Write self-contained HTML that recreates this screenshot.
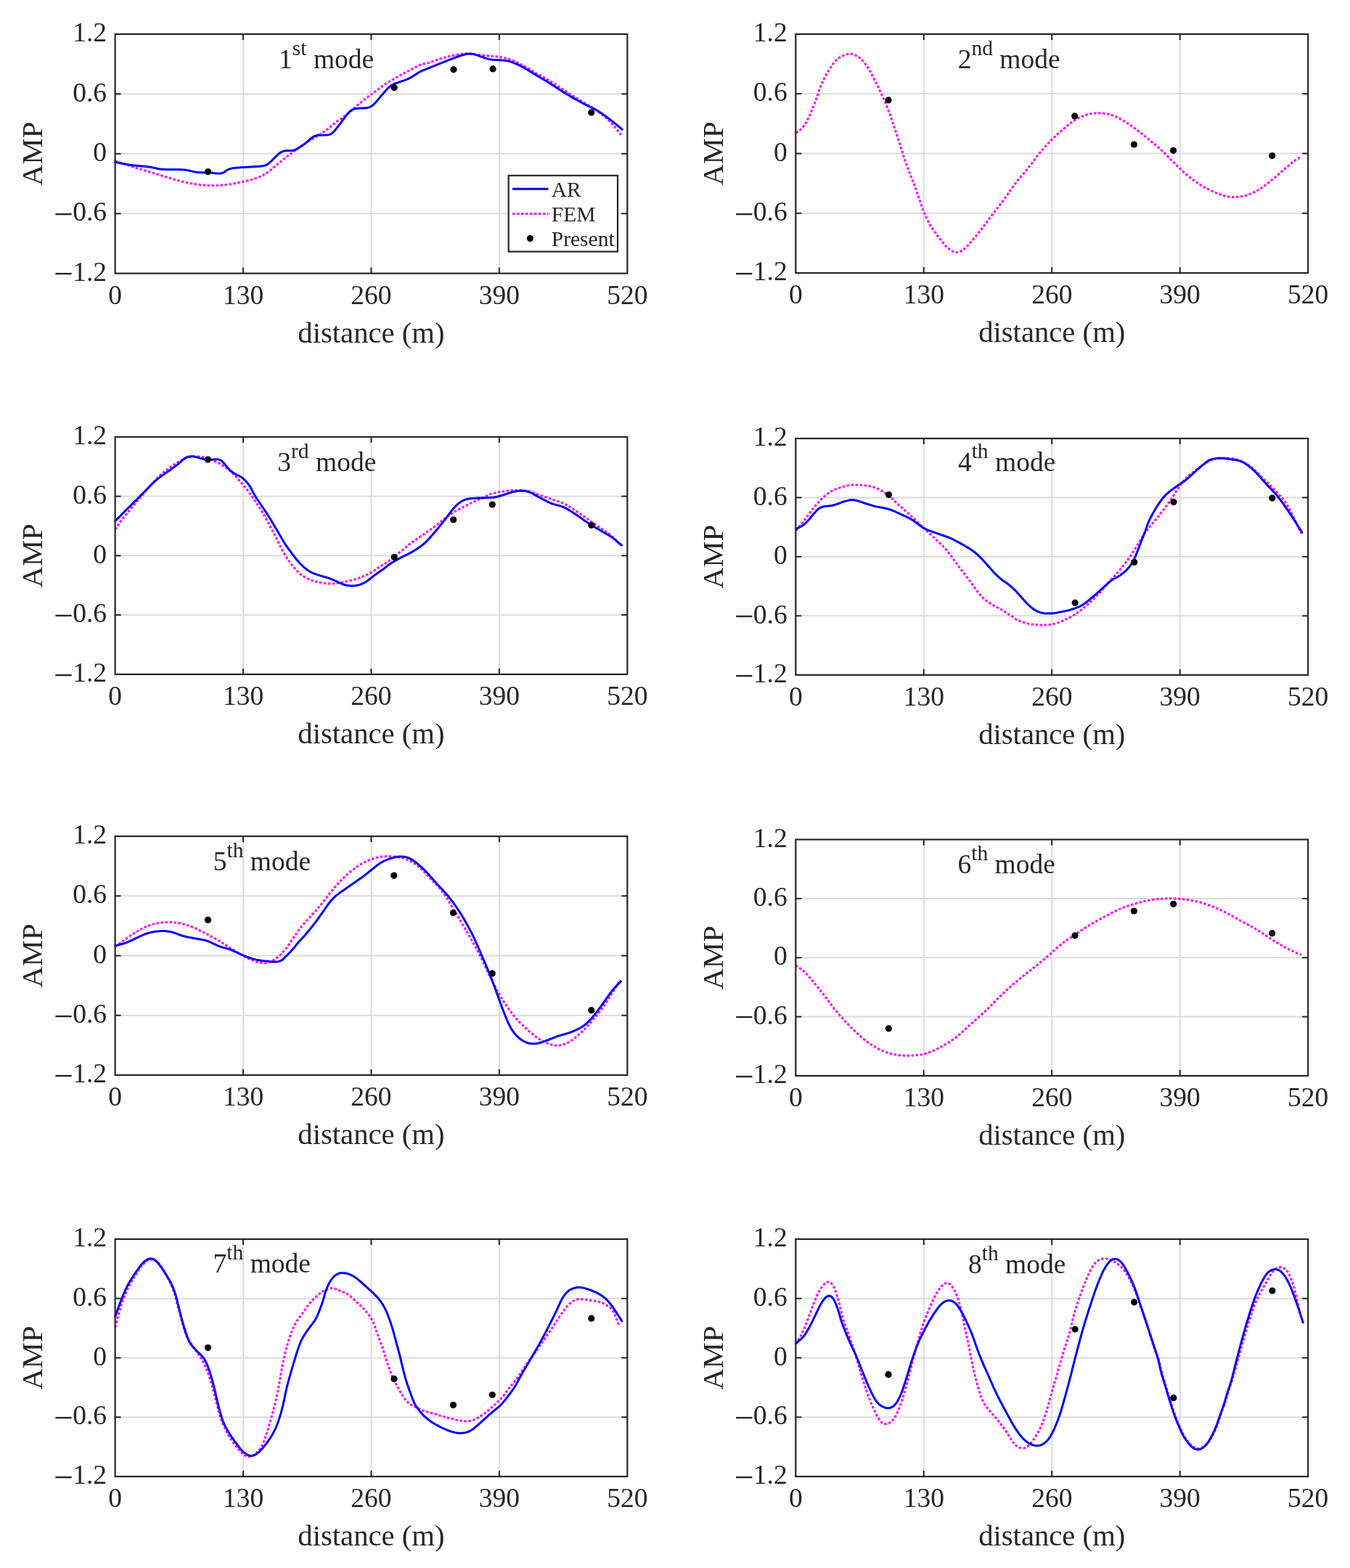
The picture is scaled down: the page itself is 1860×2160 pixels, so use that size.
<!DOCTYPE html>
<html lang="en"><head><meta charset="utf-8"><title>Mode shapes: AR, FEM and Present</title><style>html,body{margin:0;padding:0;background:#fff;overflow:hidden;}svg{display:block;}text{font-family:"Liberation Serif","Times New Roman",serif;fill:#262626;}</style></head><body>
<svg xmlns="http://www.w3.org/2000/svg" width="1860" height="2160" viewBox="0 0 1860 2160">
<rect x="0" y="0" width="1860" height="2160" fill="#fff"/>
<g stroke="#dcdcdc" stroke-width="2"><line x1="335.02" y1="47" x2="335.02" y2="376.6"/><line x1="511.45" y1="47" x2="511.45" y2="376.6"/><line x1="687.88" y1="47" x2="687.88" y2="376.6"/><line x1="158.6" y1="129.4" x2="864.3" y2="129.4"/><line x1="158.6" y1="211.8" x2="864.3" y2="211.8"/><line x1="158.6" y1="294.2" x2="864.3" y2="294.2"/></g>
<g><path d="M158.3,221.5L160.5,222.2 162.1,222.8 164.0,223.4 165.9,224.1 167.8,224.7 169.7,225.3 171.6,226.0 173.5,226.6 175.4,227.3 177.3,227.9 179.1,228.5 181.0,229.2 182.9,229.8 184.9,230.4 186.8,231.0 188.7,231.6 190.6,232.2 192.5,232.8 194.4,233.4 196.3,234.0 198.2,234.5 200.1,235.1 202.0,235.7 204.0,236.3 205.9,236.8 207.8,237.4 209.7,238.0 211.6,238.5 213.6,239.1 215.5,239.7 217.4,240.2 219.3,240.8 221.2,241.4 223.1,242.0 225.0,242.6 227.0,243.2 228.9,243.7 230.8,244.3 232.7,244.9 234.6,245.5 236.5,246.1 238.4,246.7 240.3,247.3 242.3,247.8 244.2,248.4 246.1,248.9 248.1,249.4 250.0,249.8 251.9,250.3 253.9,250.7 255.9,251.2 257.8,251.6 259.8,252.0 261.7,252.4 263.7,252.7 265.7,253.1 267.6,253.4 269.6,253.7 271.6,254.0 273.6,254.2 275.6,254.5 277.6,254.7 279.5,254.9 281.5,255.1 283.5,255.2 285.5,255.3 287.5,255.4 289.5,255.5 291.5,255.6 293.5,255.6 295.5,255.6 297.5,255.6 299.5,255.5 301.5,255.4 303.5,255.3 305.5,255.1 307.5,255.0 309.5,254.8 311.5,254.6 313.5,254.3 315.4,254.0 317.4,253.7 319.4,253.4 321.4,253.1 323.3,252.8 325.3,252.4 327.3,252.0 329.2,251.6 331.2,251.2 333.1,250.8 335.1,250.3 337.0,249.9 339.0,249.4 340.9,248.9 342.9,248.4 344.8,247.9 346.7,247.4 348.6,246.8 350.5,246.2 352.4,245.6 354.3,244.9 356.2,244.2 358.0,243.4 359.8,242.6 361.6,241.7 363.4,240.7 365.1,239.7 366.8,238.7 368.5,237.6 370.1,236.4 371.7,235.2 373.2,233.9 374.7,232.6 376.2,231.3 377.8,230.0 379.3,228.7 380.8,227.4 382.4,226.2 383.9,224.9 385.5,223.7 387.1,222.4 388.6,221.1 390.2,219.9 391.7,218.6 393.3,217.4 394.9,216.2 396.4,214.9 398.0,213.7 399.6,212.5 401.2,211.2 402.8,210.0 404.4,208.8 406.0,207.6 407.6,206.4 409.2,205.2 410.8,204.0 412.4,202.9 414.0,201.7 415.7,200.6 417.4,199.5 419.0,198.4 420.7,197.3 422.4,196.2 424.1,195.1 425.8,194.1 427.5,193.0 429.2,192.0 430.9,190.9 432.6,189.9 434.3,188.9 436.0,187.9 437.8,186.9 439.5,185.9 441.2,184.9 442.9,183.8 444.6,182.7 446.3,181.6 447.9,180.4 449.5,179.3 451.1,178.0 452.6,176.8 454.2,175.5 455.7,174.2 457.3,173.0 458.8,171.7 460.4,170.4 461.9,169.2 463.5,168.0 465.1,166.8 466.8,165.7 468.4,164.5 470.1,163.4 471.7,162.3 473.4,161.2 475.0,160.0 476.7,158.9 478.3,157.7 479.8,156.4 481.4,155.2 482.9,153.8 484.4,152.5 485.9,151.2 487.3,149.8 488.8,148.5 490.3,147.1 491.7,145.7 493.2,144.4 494.7,143.1 496.2,141.8 497.8,140.5 499.3,139.2 500.9,138.0 502.5,136.8 504.1,135.6 505.7,134.4 507.3,133.2 508.9,132.0 510.5,130.8 512.1,129.6 513.7,128.4 515.3,127.2 516.9,126.0 518.5,124.8 520.1,123.6 521.7,122.4 523.3,121.2 524.9,120.0 526.6,118.9 528.2,117.7 529.8,116.6 531.5,115.5 533.2,114.4 534.9,113.4 536.6,112.3 538.3,111.3 540.0,110.3 541.8,109.3 543.5,108.3 545.2,107.3 547.0,106.3 548.7,105.3 550.4,104.3 552.2,103.3 553.9,102.4 555.7,101.4 557.4,100.4 559.2,99.5 561.0,98.5 562.7,97.6 564.5,96.7 566.3,95.7 568.0,94.8 569.8,93.9 571.6,93.0 573.4,92.1 575.2,91.2 577.0,90.3 578.8,89.5 580.7,88.8 582.6,88.3 584.5,87.8 586.5,87.4 588.4,86.9 590.4,86.4 592.3,85.8 594.2,85.2 596.0,84.5 597.9,83.8 599.8,83.1 601.7,82.5 603.6,81.8 605.5,81.2 607.4,80.6 609.3,80.0 611.2,79.5 613.2,79.0 615.1,78.5 617.0,78.0 619.0,77.5 620.9,77.1 622.9,76.7 624.9,76.3 626.8,75.9 628.8,75.5 630.8,75.2 632.7,74.9 634.7,74.6 636.7,74.4 638.7,74.2 640.7,74.1 642.7,74.1 644.7,74.1 646.7,74.2 648.7,74.3 650.7,74.5 652.7,74.6 654.6,74.8 656.6,75.0 658.6,75.2 660.6,75.4 662.6,75.7 664.6,75.9 666.6,76.2 668.6,76.4 670.5,76.7 672.5,76.9 674.5,77.1 676.5,77.3 678.5,77.4 680.5,77.6 682.5,77.7 684.5,77.9 686.5,78.1 688.4,78.4 690.4,78.7 692.4,79.1 694.3,79.6 696.3,80.0 698.2,80.6 700.1,81.1 702.0,81.7 703.9,82.4 705.8,83.1 707.6,83.8 709.5,84.6 711.3,85.4 713.1,86.3 714.9,87.2 716.7,88.1 718.4,89.0 720.2,90.0 722.0,90.9 723.7,91.9 725.4,92.9 727.2,93.9 728.9,94.9 730.6,96.0 732.3,97.0 734.0,98.1 735.7,99.1 737.4,100.2 739.1,101.2 740.9,102.2 742.6,103.1 744.4,104.1 746.1,105.0 747.9,106.0 749.7,106.9 751.4,107.9 753.2,108.8 754.9,109.8 756.7,110.8 758.4,111.9 760.0,112.9 761.7,114.0 763.4,115.1 765.1,116.2 766.7,117.3 768.4,118.5 770.0,119.6 771.7,120.7 773.4,121.8 775.1,122.9 776.7,124.0 778.4,125.1 780.1,126.2 781.8,127.2 783.4,128.3 785.1,129.4 786.8,130.5 788.5,131.6 790.2,132.6 791.9,133.7 793.6,134.7 795.3,135.7 797.0,136.8 798.7,137.8 800.5,138.8 802.2,139.8 803.9,140.9 805.6,141.9 807.3,143.0 809.0,144.0 810.7,145.1 812.4,146.1 814.1,147.2 815.8,148.3 817.5,149.4 819.1,150.5 820.8,151.6 822.4,152.7 824.0,153.9 825.7,155.1 827.3,156.2 828.9,157.4 830.5,158.6 832.1,159.8 833.6,161.1 835.2,162.4 836.7,163.7 838.1,165.1 839.6,166.4 841.0,167.9 842.3,169.4 843.6,170.9 844.9,172.4 846.2,173.9 847.5,175.5 848.7,177.0 849.9,178.6 851.2,180.2 852.4,181.7 853.6,183.2 854.5,184.5 855.5,185.7" fill="none" stroke="#ff00ff" stroke-width="3" stroke-dasharray="3.5 2.5"/><path d="M158.3,223.2L160.5,223.7 162.3,224.0 164.2,224.4 166.1,224.8 168.1,225.2 170.1,225.6 172.0,225.9 174.0,226.3 176.0,226.6 177.9,227.0 179.9,227.3 181.9,227.5 183.9,227.8 185.9,228.0 187.9,228.2 189.9,228.3 191.8,228.5 193.8,228.7 195.8,228.9 197.8,229.0 199.8,229.2 201.8,229.4 203.8,229.7 205.8,230.0 207.7,230.3 209.7,230.7 211.7,231.1 213.6,231.5 215.6,232.0 217.5,232.4 219.5,232.7 221.5,233.0 223.4,233.2 225.4,233.3 227.4,233.4 229.4,233.5 231.4,233.5 233.4,233.5 235.4,233.5 237.4,233.5 239.4,233.5 241.4,233.5 243.4,233.6 245.4,233.6 247.4,233.6 249.4,233.7 251.4,233.8 253.4,233.9 255.4,234.1 257.4,234.4 259.3,234.8 261.3,235.2 263.3,235.7 265.2,236.1 267.2,236.5 269.1,236.9 271.1,237.2 273.1,237.4 275.1,237.5 277.1,237.6 279.1,237.7 281.1,237.7 283.1,237.7 285.1,237.7 287.1,237.8 289.1,237.9 291.1,238.1 293.0,238.3 295.0,238.5 297.0,238.7 299.0,238.9 301.0,239.0 303.0,239.0 304.9,238.7 306.8,238.1 308.5,237.3 310.2,236.2 311.8,235.0 313.5,234.0 315.3,233.1 317.2,232.5 319.1,232.0 321.0,231.6 323.0,231.4 325.0,231.2 327.0,231.0 329.0,230.9 331.0,230.7 333.0,230.6 335.0,230.5 337.0,230.4 339.0,230.3 341.0,230.2 343.0,230.0 345.0,229.9 347.0,229.8 349.0,229.6 351.0,229.5 353.0,229.4 355.0,229.3 357.0,229.2 358.9,229.0 360.9,228.8 362.9,228.4 364.8,228.0 366.7,227.3 368.4,226.4 370.0,225.2 371.5,223.9 373.0,222.6 374.5,221.2 375.9,219.8 377.3,218.4 378.7,217.0 380.1,215.6 381.6,214.2 383.0,212.8 384.5,211.5 386.1,210.3 387.8,209.3 389.6,208.6 391.5,208.0 393.5,207.7 395.5,207.5 397.5,207.5 399.4,207.5 401.4,207.6 403.3,207.4 405.2,206.9 407.1,206.2 408.8,205.3 410.6,204.3 412.3,203.2 414.0,202.1 415.6,201.0 417.3,199.9 418.9,198.8 420.5,197.6 422.1,196.3 423.6,195.0 425.1,193.7 426.5,192.3 428.0,191.0 429.6,189.8 431.2,188.6 433.0,187.7 434.8,187.0 436.7,186.5 438.7,186.3 440.7,186.2 442.7,186.2 444.7,186.2 446.7,186.2 448.7,186.1 450.6,185.9 452.6,185.7 454.5,185.1 456.3,184.3 457.9,183.2 459.3,181.9 460.7,180.4 462.0,178.9 463.2,177.3 464.5,175.8 465.7,174.2 466.9,172.6 468.2,171.0 469.4,169.4 470.5,167.8 471.7,166.2 472.9,164.6 474.1,163.0 475.3,161.4 476.5,159.8 477.7,158.2 479.0,156.7 480.3,155.2 481.7,153.7 483.2,152.4 484.8,151.4 486.6,150.5 488.5,150.0 490.4,149.6 492.4,149.4 494.4,149.2 496.4,149.1 498.4,149.0 500.4,149.0 502.4,148.8 504.4,148.7 506.4,148.4 508.3,147.9 510.1,147.3 511.9,146.3 513.4,145.2 514.9,143.8 516.3,142.4 517.7,141.0 519.0,139.5 520.3,138.0 521.6,136.4 522.9,134.9 524.2,133.3 525.4,131.8 526.8,130.3 528.1,128.8 529.4,127.3 530.7,125.8 532.0,124.3 533.3,122.8 534.7,121.3 536.2,120.0 537.7,118.7 539.3,117.5 541.0,116.5 542.8,115.7 544.7,115.0 546.6,114.3 548.5,113.6 550.3,113.0 552.2,112.3 554.1,111.7 556.0,111.1 557.9,110.4 559.8,109.7 561.6,108.9 563.4,108.1 565.2,107.1 566.9,106.1 568.6,105.1 570.3,104.0 572.0,103.0 573.7,101.9 575.4,100.8 577.1,99.8 578.9,98.8 580.6,97.9 582.4,97.0 584.3,96.3 586.1,95.5 588.0,94.8 589.9,94.1 591.7,93.4 593.6,92.6 595.5,91.9 597.3,91.1 599.2,90.4 601.0,89.6 602.9,88.9 604.7,88.2 606.6,87.4 608.4,86.7 610.3,85.9 612.2,85.2 614.0,84.4 615.9,83.7 617.7,82.9 619.6,82.2 621.5,81.5 623.3,80.8 625.2,80.1 627.1,79.4 628.9,78.7 630.8,78.0 632.7,77.3 634.6,76.7 636.5,76.0 638.4,75.5 640.3,75.0 642.3,74.5 644.3,74.2 646.2,74.1 648.2,74.1 650.2,74.3 652.2,74.6 654.1,75.1 656.0,75.6 657.9,76.3 659.8,76.9 661.7,77.6 663.6,78.2 665.5,78.9 667.3,79.6 669.2,80.3 671.1,80.9 673.0,81.4 675.0,81.8 677.0,82.1 679.0,82.3 681.0,82.4 682.9,82.5 684.9,82.6 686.9,82.7 688.9,82.8 690.9,82.9 692.9,83.0 694.9,83.2 696.9,83.5 698.9,83.8 700.8,84.2 702.7,84.8 704.6,85.4 706.5,86.1 708.4,86.8 710.2,87.6 712.1,88.4 713.9,89.2 715.7,90.1 717.4,91.0 719.2,91.9 721.0,92.9 722.7,93.9 724.5,94.8 726.2,95.8 727.9,96.9 729.6,97.9 731.3,98.9 733.0,100.0 734.8,101.0 736.5,102.1 738.2,103.1 739.9,104.1 741.6,105.2 743.3,106.2 745.0,107.2 746.8,108.2 748.5,109.2 750.2,110.3 751.9,111.3 753.6,112.3 755.3,113.4 757.0,114.4 758.7,115.5 760.4,116.6 762.1,117.7 763.7,118.8 765.4,119.9 767.1,121.0 768.7,122.1 770.4,123.2 772.1,124.3 773.8,125.3 775.5,126.4 777.2,127.4 778.9,128.5 780.6,129.5 782.3,130.5 784.1,131.5 785.8,132.6 787.5,133.6 789.2,134.6 791.0,135.6 792.7,136.6 794.5,137.5 796.2,138.5 798.0,139.5 799.7,140.4 801.5,141.4 803.2,142.3 805.0,143.3 806.8,144.2 808.6,145.1 810.4,146.0 812.2,146.8 814.0,147.7 815.8,148.5 817.6,149.4 819.3,150.3 821.1,151.3 822.8,152.3 824.5,153.3 826.2,154.4 827.9,155.5 829.6,156.6 831.2,157.8 832.8,158.9 834.5,160.1 836.1,161.3 837.7,162.5 839.3,163.7 840.8,164.9 842.4,166.1 844.0,167.4 845.6,168.6 847.1,169.9 848.7,171.1 850.2,172.4 851.7,173.7 853.3,175.0 854.7,176.2 855.9,177.2 857.2,178.2" fill="none" stroke="#0000ff" stroke-width="3" stroke-linejoin="round" stroke-linecap="round"/><circle cx="286.5" cy="236.5" r="4.6" fill="#000"/><circle cx="543.1" cy="120.7" r="4.6" fill="#000"/><circle cx="625" cy="95.8" r="4.6" fill="#000"/><circle cx="679.1" cy="94.9" r="4.6" fill="#000"/><circle cx="814.7" cy="154.9" r="4.6" fill="#000"/></g>
<g stroke="#262626" stroke-width="2"><line x1="335.02" y1="376.6" x2="335.02" y2="368.6"/><line x1="335.02" y1="47" x2="335.02" y2="55"/><line x1="511.45" y1="376.6" x2="511.45" y2="368.6"/><line x1="511.45" y1="47" x2="511.45" y2="55"/><line x1="687.88" y1="376.6" x2="687.88" y2="368.6"/><line x1="687.88" y1="47" x2="687.88" y2="55"/><line x1="158.6" y1="129.4" x2="166.6" y2="129.4"/><line x1="864.3" y1="129.4" x2="856.3" y2="129.4"/><line x1="158.6" y1="211.8" x2="166.6" y2="211.8"/><line x1="864.3" y1="211.8" x2="856.3" y2="211.8"/><line x1="158.6" y1="294.2" x2="166.6" y2="294.2"/><line x1="864.3" y1="294.2" x2="856.3" y2="294.2"/><rect x="158.6" y="47" width="705.7" height="329.6" fill="none" stroke-width="2.2"/></g>
<g font-size="37.5"><text x="147" y="57.2" text-anchor="end">1.2</text><text x="147" y="139.6" text-anchor="end">0.6</text><text x="147" y="222" text-anchor="end">0</text><text x="147" y="304.4" text-anchor="end"><tspan font-size="48" dy="6.6">−</tspan><tspan dx="-0.8" dy="-6.6">0.6</tspan></text><text x="147" y="386.8" text-anchor="end"><tspan font-size="48" dy="6.6">−</tspan><tspan dx="-0.8" dy="-6.6">1.2</tspan></text><text x="158.6" y="418.6" text-anchor="middle">0</text><text x="335.02" y="418.6" text-anchor="middle">130</text><text x="511.45" y="418.6" text-anchor="middle">260</text><text x="687.88" y="418.6" text-anchor="middle">390</text><text x="864.3" y="418.6" text-anchor="middle">520</text></g>
<text x="511.45" y="471.8" font-size="40.7" text-anchor="middle">distance (m)</text>
<text transform="translate(58.3,211.8) rotate(-90)" font-size="40.7" text-anchor="middle">AMP</text>
<text x="384.1" y="94.1" font-size="37.5">1<tspan font-size="29.5" dy="-18">st</tspan><tspan dy="18"> mode</tspan></text>
<g stroke="#dcdcdc" stroke-width="2"><line x1="1272.78" y1="47" x2="1272.78" y2="376"/><line x1="1449.25" y1="47" x2="1449.25" y2="376"/><line x1="1625.72" y1="47" x2="1625.72" y2="376"/><line x1="1096.3" y1="129.25" x2="1802.2" y2="129.25"/><line x1="1096.3" y1="211.5" x2="1802.2" y2="211.5"/><line x1="1096.3" y1="293.75" x2="1802.2" y2="293.75"/></g>
<g><path d="M1096.7,183.2L1098.5,181.8 1099.9,180.8 1101.5,179.6 1103.0,178.3 1104.5,176.9 1105.8,175.5 1107.1,174.0 1108.3,172.3 1109.4,170.7 1110.4,168.9 1111.3,167.2 1112.3,165.4 1113.2,163.6 1114.1,161.8 1114.9,160.0 1115.8,158.2 1116.6,156.4 1117.4,154.6 1118.2,152.7 1119.0,150.9 1119.7,149.0 1120.5,147.2 1121.2,145.3 1121.9,143.5 1122.6,141.6 1123.3,139.7 1124.0,137.9 1124.7,136.0 1125.4,134.1 1126.0,132.2 1126.7,130.3 1127.3,128.4 1128.0,126.5 1128.6,124.6 1129.3,122.7 1130.0,120.9 1130.7,119.0 1131.4,117.1 1132.2,115.3 1133.0,113.4 1133.8,111.6 1134.7,109.8 1135.5,108.0 1136.5,106.2 1137.4,104.5 1138.3,102.7 1139.3,101.0 1140.3,99.2 1141.3,97.5 1142.4,95.8 1143.5,94.1 1144.6,92.5 1145.7,90.8 1146.9,89.2 1148.1,87.6 1149.4,86.1 1150.7,84.6 1152.0,83.1 1153.4,81.7 1155.0,80.4 1156.6,79.3 1158.3,78.2 1160.0,77.3 1161.9,76.5 1163.7,75.7 1165.6,75.1 1167.5,74.6 1169.5,74.3 1171.5,74.3 1173.4,74.5 1175.4,75.0 1177.2,75.6 1179.1,76.3 1180.9,77.2 1182.6,78.2 1184.2,79.4 1185.8,80.6 1187.2,82.0 1188.6,83.4 1189.9,85.0 1191.1,86.5 1192.3,88.1 1193.4,89.8 1194.5,91.4 1195.6,93.1 1196.7,94.8 1197.7,96.6 1198.7,98.3 1199.7,100.0 1200.6,101.8 1201.6,103.5 1202.5,105.3 1203.4,107.1 1204.3,108.9 1205.2,110.7 1206.1,112.5 1207.0,114.2 1207.9,116.0 1208.8,117.8 1209.7,119.6 1210.5,121.4 1211.4,123.2 1212.3,125.0 1213.1,126.8 1214.0,128.7 1214.8,130.5 1215.6,132.3 1216.4,134.1 1217.3,135.9 1218.1,137.8 1218.9,139.6 1219.7,141.4 1220.5,143.3 1221.3,145.1 1222.0,147.0 1222.8,148.8 1223.5,150.7 1224.2,152.5 1224.9,154.4 1225.6,156.3 1226.3,158.2 1227.0,160.1 1227.6,161.9 1228.3,163.8 1228.9,165.7 1229.6,167.6 1230.2,169.5 1230.9,171.4 1231.5,173.3 1232.2,175.2 1232.8,177.1 1233.4,179.0 1234.0,180.9 1234.6,182.8 1235.3,184.7 1235.9,186.6 1236.5,188.5 1237.1,190.4 1237.7,192.3 1238.3,194.2 1238.9,196.1 1239.5,198.0 1240.1,199.9 1240.7,201.8 1241.3,203.8 1241.9,205.7 1242.5,207.6 1243.1,209.5 1243.7,211.4 1244.3,213.3 1244.9,215.2 1245.5,217.1 1246.1,219.0 1246.8,220.9 1247.4,222.8 1248.1,224.7 1248.8,226.6 1249.4,228.4 1250.1,230.3 1250.9,232.2 1251.6,234.0 1252.3,235.9 1253.1,237.8 1253.8,239.6 1254.6,241.5 1255.3,243.3 1256.0,245.2 1256.7,247.1 1257.5,248.9 1258.2,250.8 1258.9,252.7 1259.6,254.6 1260.3,256.4 1261.0,258.3 1261.6,260.2 1262.3,262.1 1263.0,263.9 1263.7,265.8 1264.4,267.7 1265.0,269.6 1265.7,271.5 1266.3,273.4 1267.0,275.3 1267.6,277.2 1268.2,279.1 1268.8,281.0 1269.5,282.9 1270.1,284.8 1270.8,286.7 1271.4,288.5 1272.1,290.4 1272.8,292.3 1273.6,294.1 1274.4,296.0 1275.2,297.8 1276.1,299.6 1276.9,301.4 1277.8,303.2 1278.8,304.9 1279.7,306.7 1280.7,308.4 1281.7,310.2 1282.7,311.9 1283.8,313.6 1284.9,315.3 1286.0,316.9 1287.2,318.5 1288.3,320.2 1289.5,321.8 1290.7,323.4 1291.9,325.0 1293.1,326.6 1294.3,328.2 1295.5,329.8 1296.8,331.3 1298.0,332.9 1299.3,334.4 1300.6,336.0 1301.9,337.5 1303.2,339.0 1304.6,340.4 1306.1,341.7 1307.6,343.0 1309.2,344.3 1310.8,345.4 1312.6,346.4 1314.4,347.2 1316.2,347.6 1318.2,347.7 1320.1,347.5 1322.0,346.9 1323.8,346.1 1325.5,345.1 1327.2,344.0 1328.7,342.7 1330.2,341.4 1331.6,340.0 1332.9,338.5 1334.3,337.0 1335.6,335.5 1337.0,334.1 1338.3,332.6 1339.6,331.1 1340.9,329.6 1342.2,328.0 1343.5,326.5 1344.8,325.0 1346.1,323.4 1347.3,321.9 1348.6,320.3 1349.8,318.7 1351.0,317.1 1352.3,315.6 1353.5,314.0 1354.7,312.4 1355.9,310.8 1357.1,309.2 1358.4,307.6 1359.6,306.1 1360.8,304.4 1361.9,302.8 1363.1,301.2 1364.3,299.6 1365.5,298.0 1366.6,296.4 1367.9,294.8 1369.1,293.2 1370.3,291.6 1371.5,290.0 1372.8,288.4 1374.0,286.9 1375.2,285.3 1376.4,283.7 1377.7,282.1 1378.9,280.5 1380.1,279.0 1381.3,277.4 1382.5,275.8 1383.7,274.1 1384.9,272.5 1386.0,270.9 1387.2,269.3 1388.3,267.6 1389.5,266.0 1390.6,264.4 1391.8,262.7 1392.9,261.1 1394.1,259.4 1395.2,257.8 1396.4,256.2 1397.6,254.6 1398.7,253.0 1400.0,251.4 1401.2,249.8 1402.4,248.2 1403.7,246.7 1405.0,245.1 1406.3,243.6 1407.6,242.1 1408.9,240.6 1410.2,239.1 1411.5,237.5 1412.8,236.0 1414.1,234.5 1415.3,232.9 1416.6,231.4 1417.8,229.8 1419.1,228.2 1420.3,226.7 1421.5,225.1 1422.7,223.5 1423.9,221.9 1425.1,220.3 1426.3,218.7 1427.5,217.1 1428.7,215.5 1429.9,213.9 1431.2,212.3 1432.4,210.8 1433.7,209.2 1435.0,207.7 1436.3,206.2 1437.6,204.7 1438.9,203.2 1440.3,201.7 1441.6,200.2 1443.0,198.7 1444.3,197.3 1445.7,195.8 1447.1,194.4 1448.5,192.9 1449.9,191.5 1451.3,190.1 1452.8,188.7 1454.2,187.3 1455.7,186.0 1457.1,184.6 1458.6,183.3 1460.1,182.0 1461.6,180.6 1463.1,179.3 1464.7,178.0 1466.2,176.8 1467.7,175.5 1469.3,174.2 1470.8,172.9 1472.4,171.7 1474.0,170.5 1475.5,169.2 1477.1,168.0 1478.8,166.9 1480.4,165.8 1482.1,164.7 1483.8,163.7 1485.6,162.8 1487.4,161.9 1489.2,161.0 1491.1,160.3 1492.9,159.5 1494.8,158.9 1496.7,158.3 1498.6,157.7 1500.6,157.3 1502.5,156.8 1504.5,156.5 1506.5,156.2 1508.5,156.0 1510.4,155.8 1512.4,155.7 1514.4,155.7 1516.4,155.8 1518.4,155.9 1520.4,156.1 1522.4,156.4 1524.4,156.7 1526.3,157.1 1528.3,157.6 1530.2,158.1 1532.1,158.7 1534.0,159.4 1535.8,160.1 1537.7,160.9 1539.5,161.7 1541.3,162.6 1543.1,163.6 1544.8,164.5 1546.5,165.5 1548.3,166.5 1550.0,167.5 1551.7,168.6 1553.4,169.7 1555.0,170.8 1556.7,171.9 1558.3,173.1 1559.9,174.2 1561.6,175.4 1563.2,176.6 1564.8,177.8 1566.4,179.0 1568.0,180.2 1569.6,181.4 1571.1,182.6 1572.7,183.9 1574.3,185.1 1575.8,186.4 1577.4,187.6 1578.9,188.9 1580.5,190.2 1582.0,191.4 1583.6,192.7 1585.1,194.0 1586.7,195.2 1588.2,196.5 1589.8,197.8 1591.3,199.1 1592.8,200.4 1594.3,201.7 1595.8,203.0 1597.3,204.3 1598.8,205.7 1600.2,207.0 1601.7,208.4 1603.1,209.8 1604.6,211.2 1606.0,212.6 1607.4,214.0 1608.8,215.4 1610.2,216.9 1611.6,218.3 1613.0,219.7 1614.4,221.1 1615.9,222.5 1617.3,224.0 1618.7,225.4 1620.1,226.8 1621.5,228.2 1623.0,229.6 1624.4,231.0 1625.9,232.3 1627.3,233.7 1628.8,235.1 1630.2,236.4 1631.7,237.8 1633.2,239.1 1634.7,240.4 1636.2,241.7 1637.8,243.0 1639.3,244.3 1640.9,245.5 1642.4,246.8 1644.0,248.0 1645.6,249.2 1647.3,250.3 1648.9,251.5 1650.6,252.6 1652.2,253.7 1653.9,254.8 1655.6,255.8 1657.3,256.9 1659.1,257.9 1660.8,258.8 1662.6,259.7 1664.4,260.6 1666.2,261.5 1668.0,262.4 1669.8,263.2 1671.6,264.0 1673.5,264.8 1675.3,265.6 1677.2,266.3 1679.0,267.1 1680.9,267.8 1682.8,268.4 1684.7,269.1 1686.6,269.7 1688.5,270.2 1690.5,270.7 1692.4,271.0 1694.4,271.3 1696.4,271.4 1698.4,271.4 1700.4,271.4 1702.4,271.3 1704.4,271.2 1706.4,271.1 1708.4,270.9 1710.3,270.6 1712.3,270.2 1714.2,269.8 1716.2,269.3 1718.1,268.7 1720.0,268.0 1721.9,267.4 1723.7,266.7 1725.6,265.9 1727.4,265.1 1729.2,264.2 1731.0,263.3 1732.7,262.3 1734.4,261.3 1736.1,260.2 1737.8,259.1 1739.4,257.9 1741.0,256.8 1742.6,255.6 1744.2,254.4 1745.8,253.2 1747.4,251.9 1749.0,250.7 1750.5,249.4 1752.1,248.2 1753.6,246.9 1755.1,245.6 1756.6,244.3 1758.2,243.0 1759.7,241.7 1761.2,240.3 1762.7,239.0 1764.2,237.7 1765.7,236.4 1767.2,235.1 1768.7,233.8 1770.3,232.5 1771.8,231.2 1773.3,229.9 1774.8,228.6 1776.3,227.3 1777.9,226.0 1779.4,224.7 1781.0,223.5 1782.6,222.3 1784.2,221.1 1785.8,220.0 1787.5,218.9 1789.0,218.0 1790.3,217.2 1791.4,216.5" fill="none" stroke="#ff00ff" stroke-width="3" stroke-dasharray="3.5 2.5"/><circle cx="1224" cy="137.9" r="4.6" fill="#000"/><circle cx="1480.7" cy="159.9" r="4.6" fill="#000"/><circle cx="1562.4" cy="199" r="4.6" fill="#000"/><circle cx="1616.6" cy="207.3" r="4.6" fill="#000"/><circle cx="1752.8" cy="214.5" r="4.6" fill="#000"/></g>
<g stroke="#262626" stroke-width="2"><line x1="1272.78" y1="376" x2="1272.78" y2="368"/><line x1="1272.78" y1="47" x2="1272.78" y2="55"/><line x1="1449.25" y1="376" x2="1449.25" y2="368"/><line x1="1449.25" y1="47" x2="1449.25" y2="55"/><line x1="1625.72" y1="376" x2="1625.72" y2="368"/><line x1="1625.72" y1="47" x2="1625.72" y2="55"/><line x1="1096.3" y1="129.25" x2="1104.3" y2="129.25"/><line x1="1802.2" y1="129.25" x2="1794.2" y2="129.25"/><line x1="1096.3" y1="211.5" x2="1104.3" y2="211.5"/><line x1="1802.2" y1="211.5" x2="1794.2" y2="211.5"/><line x1="1096.3" y1="293.75" x2="1104.3" y2="293.75"/><line x1="1802.2" y1="293.75" x2="1794.2" y2="293.75"/><rect x="1096.3" y="47" width="705.9" height="329" fill="none" stroke-width="2.2"/></g>
<g font-size="37.5"><text x="1084.7" y="57.2" text-anchor="end">1.2</text><text x="1084.7" y="139.45" text-anchor="end">0.6</text><text x="1084.7" y="221.7" text-anchor="end">0</text><text x="1084.7" y="303.95" text-anchor="end"><tspan font-size="48" dy="6.6">−</tspan><tspan dx="-0.8" dy="-6.6">0.6</tspan></text><text x="1084.7" y="386.2" text-anchor="end"><tspan font-size="48" dy="6.6">−</tspan><tspan dx="-0.8" dy="-6.6">1.2</tspan></text><text x="1096.3" y="418" text-anchor="middle">0</text><text x="1272.78" y="418" text-anchor="middle">130</text><text x="1449.25" y="418" text-anchor="middle">260</text><text x="1625.72" y="418" text-anchor="middle">390</text><text x="1802.2" y="418" text-anchor="middle">520</text></g>
<text x="1449.25" y="471.2" font-size="40.7" text-anchor="middle">distance (m)</text>
<text transform="translate(996,211.5) rotate(-90)" font-size="40.7" text-anchor="middle">AMP</text>
<text x="1319.7" y="93.5" font-size="37.5">2<tspan font-size="29.5" dy="-18">nd</tspan><tspan dy="18"> mode</tspan></text>
<g stroke="#dcdcdc" stroke-width="2"><line x1="335.02" y1="601.9" x2="335.02" y2="928.9"/><line x1="511.45" y1="601.9" x2="511.45" y2="928.9"/><line x1="687.88" y1="601.9" x2="687.88" y2="928.9"/><line x1="158.6" y1="683.65" x2="864.3" y2="683.65"/><line x1="158.6" y1="765.4" x2="864.3" y2="765.4"/><line x1="158.6" y1="847.15" x2="864.3" y2="847.15"/></g>
<g><path d="M158.6,729.4L159.9,727.5 160.9,726.0 162.0,724.4 163.1,722.8 164.2,721.1 165.4,719.5 166.5,717.9 167.7,716.2 168.9,714.6 170.1,713.1 171.4,711.5 172.6,709.9 173.9,708.4 175.2,706.9 176.5,705.4 177.8,703.8 179.1,702.3 180.3,700.8 181.6,699.2 182.9,697.7 184.2,696.1 185.5,694.6 186.8,693.1 188.0,691.5 189.3,690.0 190.6,688.5 191.9,687.0 193.2,685.4 194.5,683.9 195.8,682.4 197.0,680.8 198.3,679.3 199.6,677.7 200.8,676.2 202.1,674.6 203.4,673.1 204.7,671.6 206.0,670.1 207.3,668.6 208.7,667.1 210.1,665.6 211.4,664.2 212.8,662.7 214.2,661.3 215.6,659.8 217.0,658.4 218.4,657.0 219.8,655.6 221.2,654.2 222.7,652.9 224.2,651.6 225.8,650.3 227.3,649.0 228.9,647.8 230.5,646.6 232.1,645.4 233.7,644.2 235.3,643.0 237.0,641.9 238.6,640.8 240.3,639.7 242.0,638.6 243.7,637.5 245.4,636.5 247.1,635.5 248.9,634.5 250.6,633.6 252.4,632.7 254.2,631.9 256.1,631.1 258.0,630.5 259.9,630.0 261.9,629.6 263.8,629.3 265.8,629.1 267.8,629.0 269.8,628.9 271.8,628.8 273.8,628.9 275.8,629.1 277.8,629.4 279.7,629.7 281.7,630.2 283.6,630.8 285.5,631.4 287.4,632.1 289.2,632.8 291.1,633.6 292.9,634.3 294.8,635.1 296.6,635.9 298.5,636.6 300.3,637.5 302.1,638.4 303.8,639.3 305.5,640.3 307.2,641.4 308.9,642.5 310.6,643.6 312.2,644.8 313.8,646.0 315.3,647.2 316.8,648.5 318.3,649.9 319.8,651.2 321.2,652.6 322.6,654.1 324.0,655.5 325.3,657.0 326.7,658.5 328.0,660.0 329.3,661.5 330.7,663.0 332.0,664.5 333.3,666.0 334.6,667.5 335.8,669.1 337.1,670.6 338.4,672.2 339.6,673.7 340.9,675.3 342.1,676.9 343.3,678.5 344.5,680.1 345.6,681.7 346.8,683.3 347.9,685.0 349.1,686.6 350.2,688.3 351.3,689.9 352.4,691.6 353.5,693.3 354.6,694.9 355.7,696.6 356.8,698.3 357.9,700.0 358.9,701.7 360.0,703.4 361.1,705.1 362.1,706.8 363.1,708.5 364.1,710.2 365.1,712.0 366.0,713.7 367.0,715.5 368.0,717.3 368.9,719.0 369.9,720.8 370.8,722.5 371.8,724.3 372.7,726.0 373.7,727.8 374.6,729.6 375.6,731.3 376.5,733.1 377.4,734.9 378.3,736.6 379.3,738.4 380.1,740.2 381.0,742.0 381.9,743.8 382.8,745.6 383.6,747.4 384.5,749.2 385.4,751.0 386.3,752.8 387.2,754.6 388.2,756.3 389.1,758.1 390.1,759.8 391.1,761.6 392.1,763.3 393.1,765.0 394.1,766.7 395.2,768.4 396.3,770.1 397.4,771.8 398.5,773.4 399.7,775.0 400.9,776.6 402.1,778.2 403.4,779.8 404.7,781.3 406.0,782.8 407.3,784.3 408.6,785.8 410.0,787.2 411.4,788.6 412.9,790.0 414.4,791.3 416.0,792.5 417.7,793.6 419.4,794.7 421.1,795.7 422.9,796.6 424.7,797.5 426.5,798.3 428.3,799.1 430.2,799.8 432.1,800.4 434.0,801.0 435.9,801.4 437.9,801.8 439.9,802.2 441.8,802.5 443.8,802.9 445.8,803.2 447.8,803.5 449.7,803.7 451.7,803.9 453.7,804.0 455.7,804.0 457.7,804.0 459.7,803.9 461.7,803.8 463.7,803.6 465.7,803.4 467.7,803.1 469.6,802.7 471.6,802.3 473.5,801.8 475.5,801.3 477.4,800.8 479.4,800.4 481.3,800.0 483.3,799.6 485.2,799.2 487.2,798.7 489.1,798.1 491.0,797.5 492.9,796.8 494.7,796.1 496.6,795.4 498.5,794.7 500.3,794.0 502.2,793.2 504.0,792.4 505.8,791.5 507.6,790.6 509.4,789.7 511.1,788.7 512.8,787.7 514.5,786.6 516.2,785.5 517.8,784.3 519.4,783.2 521.1,782.0 522.7,780.9 524.4,779.8 526.1,778.8 527.8,777.8 529.6,776.8 531.3,775.8 533.0,774.7 534.6,773.6 536.2,772.4 537.8,771.2 539.4,769.9 540.9,768.7 542.5,767.4 544.0,766.2 545.6,764.9 547.1,763.6 548.7,762.4 550.2,761.1 551.8,759.9 553.4,758.6 554.9,757.3 556.5,756.1 558.0,754.8 559.6,753.5 561.1,752.3 562.7,751.0 564.2,749.8 565.8,748.6 567.4,747.3 569.0,746.2 570.6,745.0 572.3,743.8 573.9,742.7 575.5,741.5 577.2,740.4 578.8,739.3 580.5,738.2 582.1,737.0 583.8,735.9 585.4,734.8 587.1,733.6 588.7,732.5 590.4,731.3 592.0,730.2 593.7,729.1 595.3,727.9 596.9,726.8 598.5,725.6 600.2,724.4 601.8,723.2 603.3,722.0 604.9,720.7 606.5,719.5 608.0,718.2 609.5,716.9 611.1,715.7 612.6,714.4 614.2,713.1 615.8,711.9 617.4,710.7 619.0,709.6 620.7,708.5 622.4,707.4 624.1,706.3 625.8,705.3 627.5,704.3 629.2,703.3 631.0,702.3 632.7,701.3 634.5,700.3 636.2,699.4 638.0,698.5 639.8,697.5 641.6,696.6 643.4,695.8 645.1,694.9 647.0,694.0 648.8,693.2 650.6,692.3 652.4,691.5 654.2,690.6 656.0,689.8 657.8,689.0 659.7,688.1 661.5,687.3 663.3,686.5 665.1,685.7 666.9,684.9 668.7,684.0 670.5,683.1 672.3,682.1 674.1,681.3 675.9,680.5 677.8,679.9 679.8,679.4 681.7,679.0 683.7,678.6 685.6,678.2 687.6,677.8 689.6,677.5 691.5,677.2 693.5,676.9 695.5,676.6 697.5,676.3 699.5,676.1 701.5,675.8 703.4,675.6 705.4,675.5 707.4,675.3 709.4,675.2 711.4,675.2 713.4,675.2 715.4,675.2 717.4,675.2 719.4,675.3 721.4,675.4 723.4,675.7 725.4,676.0 727.3,676.4 729.3,676.9 731.2,677.4 733.1,678.1 734.9,678.8 736.8,679.5 738.7,680.2 740.5,680.9 742.4,681.6 744.3,682.3 746.2,682.9 748.1,683.6 750.0,684.3 751.9,684.9 753.7,685.6 755.6,686.2 757.5,686.9 759.4,687.5 761.3,688.2 763.2,688.8 765.1,689.4 767.0,690.0 768.9,690.6 770.8,691.3 772.7,691.9 774.5,692.7 776.4,693.5 778.2,694.4 779.9,695.3 781.7,696.3 783.4,697.3 785.1,698.3 786.8,699.4 788.5,700.5 790.2,701.6 791.8,702.7 793.5,703.8 795.2,704.9 796.8,706.0 798.5,707.2 800.1,708.3 801.7,709.5 803.4,710.6 805.0,711.8 806.6,712.9 808.3,714.1 809.9,715.3 811.5,716.4 813.2,717.5 814.8,718.7 816.4,719.8 818.1,721.0 819.7,722.1 821.4,723.3 823.0,724.4 824.6,725.6 826.3,726.7 827.9,727.8 829.6,729.0 831.3,730.1 832.9,731.2 834.6,732.3 836.2,733.4 837.9,734.5 839.5,735.7 841.1,736.9 842.6,738.2 844.1,739.5 845.6,740.9 847.0,742.3 848.4,743.7 849.7,745.2 851.1,746.7 852.4,748.2 853.6,749.6 854.6,750.7 855.5,751.8" fill="none" stroke="#ff00ff" stroke-width="3" stroke-dasharray="3.5 2.5"/><path d="M158.6,717.8L160.2,716.2 161.5,714.9 162.8,713.6 164.3,712.1 165.7,710.7 167.1,709.3 168.5,707.9 169.9,706.5 171.3,705.1 172.7,703.6 174.1,702.2 175.5,700.8 176.9,699.4 178.4,698.0 179.8,696.5 181.2,695.1 182.6,693.7 184.0,692.3 185.5,690.9 186.9,689.5 188.3,688.1 189.7,686.7 191.1,685.3 192.5,683.9 194.0,682.4 195.4,681.0 196.8,679.6 198.2,678.2 199.6,676.8 201.0,675.3 202.4,673.9 203.8,672.5 205.2,671.1 206.6,669.6 208.0,668.2 209.4,666.8 210.8,665.4 212.3,664.0 213.8,662.7 215.3,661.4 216.8,660.1 218.4,658.9 220.0,657.6 221.6,656.4 223.2,655.3 224.8,654.1 226.4,652.9 228.1,651.8 229.7,650.6 231.4,649.5 233.0,648.4 234.7,647.2 236.3,646.1 237.9,644.9 239.5,643.7 241.1,642.6 242.7,641.3 244.3,640.1 245.9,638.8 247.4,637.6 248.9,636.3 250.4,634.9 251.9,633.6 253.4,632.3 254.9,631.0 256.6,630.1 258.5,629.3 260.4,628.9 262.3,628.7 264.3,628.6 266.3,628.8 268.3,629.1 270.2,629.6 272.1,630.1 274.1,630.7 276.0,631.3 277.9,631.8 279.8,632.3 281.8,632.7 283.7,633.0 285.7,633.3 287.7,633.4 289.7,633.4 291.7,633.2 293.7,633.0 295.7,632.8 297.6,632.7 299.6,632.8 301.6,633.1 303.4,633.7 305.1,634.7 306.6,635.9 308.0,637.4 309.3,638.9 310.5,640.5 311.7,642.0 313.0,643.6 314.3,645.1 315.7,646.6 317.1,647.9 318.6,649.2 320.2,650.5 321.8,651.6 323.5,652.7 325.3,653.6 327.1,654.5 328.9,655.3 330.7,656.2 332.4,657.2 334.0,658.4 335.5,659.6 337.0,661.0 338.4,662.5 339.7,663.9 341.0,665.5 342.2,667.1 343.4,668.7 344.5,670.3 345.5,672.1 346.4,673.8 347.4,675.6 348.3,677.4 349.2,679.1 350.2,680.9 351.2,682.6 352.3,684.3 353.3,686.0 354.4,687.7 355.5,689.3 356.6,691.0 357.8,692.7 358.9,694.3 360.0,696.0 361.1,697.6 362.2,699.3 363.3,700.9 364.5,702.6 365.6,704.3 366.7,705.9 367.8,707.6 368.9,709.3 370.0,711.0 371.0,712.7 372.1,714.4 373.1,716.1 374.1,717.8 375.1,719.5 376.1,721.2 377.2,722.9 378.2,724.7 379.2,726.4 380.3,728.1 381.3,729.8 382.3,731.5 383.3,733.2 384.3,735.0 385.3,736.7 386.3,738.4 387.3,740.2 388.3,741.9 389.3,743.6 390.4,745.4 391.4,747.1 392.5,748.8 393.6,750.4 394.7,752.1 395.8,753.7 397.0,755.3 398.2,757.0 399.4,758.6 400.6,760.2 401.8,761.8 402.9,763.4 404.1,765.0 405.4,766.6 406.6,768.2 407.8,769.7 409.1,771.3 410.4,772.8 411.7,774.3 413.0,775.8 414.4,777.2 415.8,778.6 417.3,780.0 418.8,781.4 420.3,782.7 421.8,783.9 423.5,785.1 425.1,786.2 426.8,787.3 428.6,788.2 430.3,789.1 432.2,789.9 434.1,790.6 435.9,791.2 437.8,791.9 439.7,792.5 441.7,793.1 443.6,793.6 445.5,794.2 447.4,794.7 449.3,795.3 451.3,795.9 453.2,796.5 455.0,797.1 456.9,797.9 458.7,798.6 460.6,799.5 462.4,800.3 464.2,801.2 466.0,802.0 467.8,802.9 469.6,803.7 471.4,804.5 473.3,805.2 475.2,805.7 477.2,806.2 479.1,806.6 481.1,806.8 483.1,807.0 485.1,807.0 487.1,806.9 489.1,806.7 491.1,806.4 493.0,806.1 495.0,805.6 496.9,805.0 498.7,804.3 500.5,803.5 502.3,802.5 504.0,801.5 505.7,800.4 507.3,799.2 508.9,798.0 510.5,796.8 512.1,795.6 513.6,794.3 515.2,793.1 516.8,791.9 518.4,790.7 520.0,789.5 521.7,788.4 523.3,787.3 525.0,786.2 526.6,785.1 528.3,783.9 529.9,782.7 531.4,781.5 532.9,780.1 534.4,778.9 536.0,777.7 537.7,776.6 539.4,775.6 541.1,774.5 542.8,773.5 544.6,772.5 546.3,771.5 548.0,770.5 549.8,769.5 551.5,768.5 553.3,767.6 555.1,766.7 556.9,765.8 558.7,764.9 560.5,764.1 562.3,763.2 564.0,762.3 565.8,761.4 567.6,760.4 569.3,759.4 571.0,758.3 572.7,757.3 574.4,756.2 576.1,755.1 577.7,754.0 579.3,752.9 580.9,751.6 582.5,750.4 584.0,749.1 585.5,747.8 587.0,746.4 588.4,745.0 589.8,743.5 591.1,742.1 592.5,740.6 593.8,739.1 595.1,737.6 596.4,736.1 597.7,734.6 599.0,733.0 600.3,731.5 601.6,730.0 602.9,728.4 604.2,726.9 605.4,725.4 606.7,723.8 607.9,722.2 609.2,720.7 610.4,719.1 611.6,717.5 612.9,716.0 614.1,714.4 615.3,712.8 616.5,711.2 617.7,709.6 618.9,708.0 620.1,706.4 621.3,704.8 622.5,703.2 623.8,701.6 625.1,700.1 626.4,698.6 627.8,697.2 629.2,695.8 630.7,694.4 632.2,693.2 633.8,692.0 635.5,690.9 637.2,689.9 639.0,689.0 640.9,688.3 642.8,687.7 644.7,687.3 646.7,686.9 648.7,686.7 650.6,686.5 652.6,686.4 654.6,686.3 656.6,686.2 658.6,686.1 660.6,686.1 662.6,686.0 664.6,685.9 666.6,685.9 668.6,685.8 670.6,685.8 672.6,685.7 674.6,685.6 676.6,685.5 678.6,685.3 680.6,685.0 682.6,684.7 684.5,684.3 686.5,683.8 688.4,683.3 690.3,682.7 692.2,682.2 694.1,681.6 696.0,681.0 697.9,680.4 699.8,679.7 701.7,679.1 703.6,678.5 705.6,677.9 707.5,677.4 709.5,677.0 711.4,676.7 713.4,676.5 715.4,676.3 717.4,676.2 719.4,676.1 721.4,676.2 723.4,676.4 725.3,676.8 727.3,677.2 729.1,677.9 731.0,678.6 732.8,679.5 734.6,680.4 736.3,681.4 738.1,682.4 739.8,683.3 741.5,684.3 743.3,685.2 745.1,686.2 746.9,687.1 748.6,688.0 750.4,689.0 752.2,689.9 754.0,690.8 755.7,691.7 757.6,692.5 759.4,693.3 761.3,694.0 763.2,694.6 765.1,695.1 767.0,695.6 769.0,696.1 770.9,696.6 772.8,697.2 774.7,697.9 776.6,698.6 778.4,699.5 780.1,700.4 781.9,701.4 783.6,702.4 785.3,703.4 787.0,704.5 788.7,705.6 790.3,706.7 792.0,707.8 793.7,708.9 795.3,710.0 797.0,711.2 798.6,712.3 800.2,713.5 801.9,714.6 803.5,715.8 805.1,717.0 806.7,718.1 808.4,719.2 810.1,720.3 811.7,721.4 813.4,722.5 815.1,723.5 816.9,724.6 818.6,725.6 820.3,726.6 822.0,727.6 823.8,728.6 825.5,729.6 827.2,730.7 828.9,731.7 830.7,732.7 832.4,733.7 834.1,734.7 835.8,735.7 837.6,736.7 839.3,737.7 841.0,738.8 842.6,739.9 844.3,741.1 845.9,742.3 847.4,743.5 849.0,744.8 850.5,746.0 852.1,747.3 853.5,748.6 854.8,749.7 856.4,751.0" fill="none" stroke="#0000ff" stroke-width="3" stroke-linejoin="round" stroke-linecap="round"/><circle cx="286.4" cy="633" r="4.6" fill="#000"/><circle cx="543.2" cy="767.6" r="4.6" fill="#000"/><circle cx="624.7" cy="716" r="4.6" fill="#000"/><circle cx="678.3" cy="695" r="4.6" fill="#000"/><circle cx="814.8" cy="723.5" r="4.6" fill="#000"/></g>
<g stroke="#262626" stroke-width="2"><line x1="335.02" y1="928.9" x2="335.02" y2="920.9"/><line x1="335.02" y1="601.9" x2="335.02" y2="609.9"/><line x1="511.45" y1="928.9" x2="511.45" y2="920.9"/><line x1="511.45" y1="601.9" x2="511.45" y2="609.9"/><line x1="687.88" y1="928.9" x2="687.88" y2="920.9"/><line x1="687.88" y1="601.9" x2="687.88" y2="609.9"/><line x1="158.6" y1="683.65" x2="166.6" y2="683.65"/><line x1="864.3" y1="683.65" x2="856.3" y2="683.65"/><line x1="158.6" y1="765.4" x2="166.6" y2="765.4"/><line x1="864.3" y1="765.4" x2="856.3" y2="765.4"/><line x1="158.6" y1="847.15" x2="166.6" y2="847.15"/><line x1="864.3" y1="847.15" x2="856.3" y2="847.15"/><rect x="158.6" y="601.9" width="705.7" height="327" fill="none" stroke-width="2.2"/></g>
<g font-size="37.5"><text x="147" y="612.1" text-anchor="end">1.2</text><text x="147" y="693.85" text-anchor="end">0.6</text><text x="147" y="775.6" text-anchor="end">0</text><text x="147" y="857.35" text-anchor="end"><tspan font-size="48" dy="6.6">−</tspan><tspan dx="-0.8" dy="-6.6">0.6</tspan></text><text x="147" y="939.1" text-anchor="end"><tspan font-size="48" dy="6.6">−</tspan><tspan dx="-0.8" dy="-6.6">1.2</tspan></text><text x="158.6" y="970.9" text-anchor="middle">0</text><text x="335.02" y="970.9" text-anchor="middle">130</text><text x="511.45" y="970.9" text-anchor="middle">260</text><text x="687.88" y="970.9" text-anchor="middle">390</text><text x="864.3" y="970.9" text-anchor="middle">520</text></g>
<text x="511.45" y="1024.1" font-size="40.7" text-anchor="middle">distance (m)</text>
<text transform="translate(58.3,765.4) rotate(-90)" font-size="40.7" text-anchor="middle">AMP</text>
<text x="382.3" y="648.8" font-size="37.5">3<tspan font-size="29.5" dy="-18">rd</tspan><tspan dy="18"> mode</tspan></text>
<g stroke="#dcdcdc" stroke-width="2"><line x1="1272.78" y1="604" x2="1272.78" y2="929.8"/><line x1="1449.25" y1="604" x2="1449.25" y2="929.8"/><line x1="1625.72" y1="604" x2="1625.72" y2="929.8"/><line x1="1096.3" y1="685.45" x2="1802.2" y2="685.45"/><line x1="1096.3" y1="766.9" x2="1802.2" y2="766.9"/><line x1="1096.3" y1="848.35" x2="1802.2" y2="848.35"/></g>
<g><path d="M1096.7,731.0L1098.1,729.2 1099.2,727.8 1100.4,726.3 1101.7,724.7 1102.9,723.2 1104.2,721.6 1105.4,720.0 1106.6,718.5 1107.8,716.9 1109.1,715.3 1110.3,713.7 1111.5,712.1 1112.7,710.5 1113.9,708.9 1115.1,707.3 1116.3,705.7 1117.5,704.1 1118.7,702.5 1120.0,701.0 1121.2,699.4 1122.5,697.9 1123.8,696.3 1125.1,694.8 1126.4,693.3 1127.8,691.9 1129.1,690.4 1130.5,688.9 1131.9,687.5 1133.3,686.1 1134.7,684.7 1136.2,683.3 1137.7,682.0 1139.3,680.8 1140.9,679.6 1142.5,678.5 1144.2,677.4 1146.0,676.4 1147.8,675.5 1149.6,674.7 1151.4,673.9 1153.3,673.2 1155.1,672.5 1157.0,671.8 1158.9,671.2 1160.8,670.6 1162.8,670.1 1164.7,669.6 1166.7,669.2 1168.6,668.8 1170.6,668.5 1172.6,668.3 1174.6,668.1 1176.6,668.0 1178.6,668.0 1180.6,668.0 1182.6,668.0 1184.6,668.1 1186.6,668.3 1188.6,668.5 1190.5,668.7 1192.5,668.9 1194.5,669.1 1196.5,669.4 1198.5,669.8 1200.4,670.1 1202.4,670.6 1204.3,671.2 1206.2,671.9 1208.0,672.6 1209.8,673.5 1211.6,674.4 1213.3,675.3 1215.1,676.3 1216.8,677.4 1218.4,678.5 1220.1,679.7 1221.7,680.8 1223.3,682.0 1224.9,683.3 1226.4,684.5 1227.9,685.8 1229.4,687.2 1230.9,688.5 1232.3,689.9 1233.8,691.3 1235.2,692.6 1236.7,694.0 1238.2,695.4 1239.6,696.7 1241.1,698.1 1242.6,699.4 1244.1,700.7 1245.6,702.1 1247.1,703.4 1248.6,704.7 1250.1,706.1 1251.6,707.4 1253.0,708.7 1254.5,710.1 1256.0,711.4 1257.5,712.8 1258.9,714.2 1260.4,715.5 1261.8,716.9 1263.3,718.3 1264.7,719.7 1266.2,721.1 1267.6,722.4 1269.0,723.8 1270.5,725.2 1271.9,726.6 1273.4,728.0 1274.8,729.3 1276.3,730.7 1277.7,732.1 1279.2,733.5 1280.6,734.8 1282.1,736.2 1283.6,737.6 1285.0,739.0 1286.5,740.3 1287.9,741.7 1289.4,743.1 1290.8,744.5 1292.3,745.8 1293.8,747.2 1295.2,748.5 1296.7,749.9 1298.1,751.3 1299.5,752.7 1300.9,754.2 1302.2,755.7 1303.5,757.2 1304.8,758.7 1306.1,760.2 1307.3,761.8 1308.6,763.4 1309.8,765.0 1311.0,766.6 1312.1,768.2 1313.3,769.9 1314.4,771.5 1315.5,773.2 1316.7,774.8 1317.9,776.4 1319.1,778.0 1320.3,779.6 1321.5,781.2 1322.7,782.8 1323.9,784.4 1325.1,785.9 1326.4,787.5 1327.6,789.1 1328.8,790.7 1330.1,792.3 1331.3,793.8 1332.5,795.4 1333.8,797.0 1335.0,798.6 1336.2,800.2 1337.3,801.8 1338.5,803.4 1339.6,805.1 1340.8,806.7 1341.9,808.4 1343.1,810.0 1344.2,811.6 1345.4,813.2 1346.7,814.8 1347.9,816.4 1349.2,817.9 1350.5,819.4 1351.8,820.9 1353.2,822.4 1354.6,823.8 1356.1,825.1 1357.6,826.4 1359.2,827.6 1360.8,828.8 1362.4,830.0 1364.1,831.1 1365.7,832.2 1367.4,833.2 1369.2,834.3 1370.9,835.2 1372.7,836.2 1374.5,837.1 1376.3,837.9 1378.1,838.8 1379.8,839.8 1381.5,840.8 1383.2,841.9 1384.8,843.0 1386.5,844.2 1388.1,845.3 1389.8,846.4 1391.5,847.4 1393.3,848.3 1394.9,849.4 1396.4,850.7 1397.9,851.9 1399.6,853.0 1401.3,853.9 1403.1,854.8 1405.0,855.5 1406.9,856.2 1408.8,856.9 1410.7,857.5 1412.6,858.1 1414.5,858.6 1416.4,859.1 1418.4,859.5 1420.3,859.9 1422.3,860.1 1424.3,860.4 1426.3,860.6 1428.3,860.7 1430.3,860.8 1432.3,860.9 1434.3,860.9 1436.3,860.9 1438.3,860.9 1440.3,860.9 1442.3,860.8 1444.3,860.7 1446.3,860.5 1448.2,860.2 1450.2,859.9 1452.2,859.4 1454.1,858.9 1456.0,858.3 1457.9,857.7 1459.8,857.0 1461.6,856.3 1463.5,855.5 1465.3,854.7 1467.1,853.9 1468.9,853.0 1470.7,852.2 1472.5,851.3 1474.3,850.3 1476.1,849.4 1477.8,848.4 1479.5,847.3 1481.2,846.3 1482.9,845.2 1484.5,844.1 1486.1,842.9 1487.8,841.7 1489.3,840.5 1490.9,839.3 1492.5,838.0 1494.0,836.7 1495.5,835.4 1497.0,834.1 1498.5,832.8 1500.0,831.5 1501.5,830.1 1503.0,828.8 1504.4,827.4 1505.9,826.0 1507.3,824.6 1508.7,823.2 1510.1,821.8 1511.5,820.3 1512.9,818.9 1514.3,817.4 1515.7,816.0 1517.0,814.5 1518.4,813.0 1519.7,811.5 1521.0,810.0 1522.3,808.5 1523.6,807.0 1524.8,805.4 1526.1,803.9 1527.4,802.3 1528.7,800.8 1530.0,799.3 1531.3,797.8 1532.7,796.3 1534.0,794.9 1535.4,793.4 1536.8,791.9 1538.1,790.5 1539.5,789.0 1540.8,787.5 1542.1,786.0 1543.4,784.5 1544.7,782.9 1546.0,781.4 1547.2,779.8 1548.5,778.3 1549.7,776.7 1550.9,775.1 1552.1,773.5 1553.3,771.9 1554.4,770.3 1555.6,768.6 1556.7,767.0 1557.9,765.3 1559.0,763.7 1560.1,762.0 1561.1,760.3 1562.2,758.6 1563.2,756.9 1564.3,755.2 1565.3,753.5 1566.4,751.8 1567.4,750.1 1568.5,748.4 1569.5,746.7 1570.6,745.0 1571.6,743.3 1572.6,741.6 1573.7,739.9 1574.8,738.2 1575.9,736.5 1577.0,734.9 1578.2,733.2 1579.4,731.6 1580.6,730.1 1581.9,728.5 1583.1,726.9 1584.4,725.4 1585.6,723.8 1586.9,722.3 1588.2,720.7 1589.4,719.2 1590.7,717.7 1592.0,716.1 1593.3,714.6 1594.5,713.0 1595.8,711.5 1597.0,709.9 1598.2,708.3 1599.4,706.7 1600.7,705.1 1601.9,703.5 1603.1,701.9 1604.3,700.4 1605.6,698.8 1606.8,697.2 1608.0,695.6 1609.2,694.1 1610.4,692.5 1611.6,690.8 1612.7,689.2 1613.8,687.5 1614.9,685.8 1616.0,684.1 1617.0,682.4 1618.1,680.7 1619.1,679.0 1620.2,677.3 1621.3,675.7 1622.4,674.0 1623.5,672.3 1624.6,670.7 1625.7,669.0 1626.9,667.4 1628.1,665.8 1629.3,664.2 1630.6,662.7 1631.9,661.2 1633.3,659.7 1634.7,658.3 1636.1,656.9 1637.6,655.6 1639.1,654.2 1640.6,652.9 1642.2,651.7 1643.7,650.4 1645.3,649.2 1646.9,648.0 1648.5,646.8 1650.1,645.6 1651.7,644.4 1653.4,643.3 1655.0,642.2 1656.7,641.1 1658.4,640.0 1660.1,638.9 1661.8,637.9 1663.5,636.8 1665.2,635.8 1667.0,634.8 1668.7,633.9 1670.5,633.1 1672.4,632.4 1674.3,631.8 1676.3,631.4 1678.2,631.1 1680.2,631.0 1682.2,630.9 1684.2,630.9 1686.2,630.9 1688.2,631.0 1690.2,631.1 1692.2,631.2 1694.2,631.4 1696.2,631.6 1698.2,631.8 1700.2,632.1 1702.1,632.5 1704.1,632.9 1706.0,633.5 1707.8,634.2 1709.7,634.9 1711.5,635.7 1713.3,636.6 1715.1,637.6 1716.8,638.6 1718.5,639.6 1720.2,640.7 1721.8,641.9 1723.4,643.1 1725.0,644.3 1726.5,645.6 1728.0,647.0 1729.4,648.3 1730.9,649.7 1732.3,651.1 1733.7,652.5 1735.1,653.9 1736.5,655.4 1738.0,656.8 1739.4,658.2 1740.8,659.6 1742.2,661.0 1743.7,662.4 1745.1,663.7 1746.6,665.1 1748.0,666.5 1749.4,667.9 1750.8,669.4 1752.2,670.8 1753.6,672.2 1755.0,673.7 1756.4,675.1 1757.7,676.6 1759.1,678.0 1760.5,679.5 1761.9,680.9 1763.2,682.4 1764.6,683.9 1765.9,685.4 1767.2,686.9 1768.4,688.5 1769.6,690.1 1770.8,691.7 1771.9,693.4 1773.0,695.1 1774.0,696.8 1775.0,698.5 1775.9,700.3 1776.9,702.0 1777.8,703.8 1778.7,705.6 1779.6,707.3 1780.5,709.1 1781.4,710.9 1782.3,712.7 1783.2,714.5 1784.0,716.3 1784.9,718.1 1785.8,719.9 1786.6,721.7 1787.5,723.6 1788.3,725.4 1789.2,727.2 1790.0,729.0 1790.9,730.8 1791.7,732.5 1792.3,733.8 1793.0,735.2" fill="none" stroke="#ff00ff" stroke-width="3" stroke-dasharray="3.5 2.5"/><path d="M1096.7,728.5L1098.8,727.6 1100.4,726.8 1102.1,726.0 1103.9,725.0 1105.6,724.0 1107.2,722.9 1108.8,721.6 1110.2,720.2 1111.6,718.8 1113.0,717.4 1114.4,715.9 1115.7,714.4 1117.0,712.8 1118.2,711.3 1119.5,709.7 1120.7,708.2 1122.0,706.7 1123.4,705.2 1124.7,703.7 1126.1,702.3 1127.6,701.0 1129.3,699.9 1131.0,699.0 1132.9,698.3 1134.8,697.8 1136.8,697.5 1138.7,697.3 1140.7,697.1 1142.7,696.9 1144.7,696.6 1146.7,696.3 1148.6,695.8 1150.5,695.3 1152.4,694.7 1154.3,694.0 1156.2,693.3 1158.1,692.6 1159.9,691.9 1161.8,691.2 1163.7,690.6 1165.6,690.1 1167.6,689.6 1169.5,689.1 1171.5,688.8 1173.5,688.7 1175.5,688.7 1177.4,688.9 1179.4,689.2 1181.3,689.8 1183.2,690.4 1185.1,691.0 1187.0,691.7 1188.9,692.3 1190.8,693.0 1192.7,693.6 1194.6,694.2 1196.5,694.8 1198.4,695.4 1200.3,696.0 1202.2,696.5 1204.2,697.1 1206.1,697.6 1208.0,698.0 1210.0,698.4 1212.0,698.8 1213.9,699.1 1215.9,699.4 1217.9,699.8 1219.8,700.2 1221.8,700.7 1223.7,701.2 1225.6,701.8 1227.5,702.5 1229.4,703.2 1231.2,703.9 1233.1,704.7 1234.9,705.5 1236.7,706.3 1238.5,707.1 1240.4,708.0 1242.2,708.8 1244.0,709.6 1245.8,710.5 1247.6,711.3 1249.4,712.2 1251.2,713.1 1253.0,714.0 1254.7,715.0 1256.4,716.0 1258.1,717.1 1259.8,718.2 1261.4,719.4 1263.0,720.6 1264.6,721.8 1266.2,723.0 1267.8,724.2 1269.4,725.3 1271.1,726.4 1272.8,727.5 1274.6,728.4 1276.4,729.3 1278.2,730.1 1280.1,730.8 1281.9,731.5 1283.8,732.2 1285.7,732.9 1287.6,733.5 1289.5,734.2 1291.4,734.9 1293.2,735.5 1295.1,736.2 1297.0,736.9 1298.9,737.5 1300.8,738.2 1302.7,738.8 1304.6,739.5 1306.5,740.2 1308.3,740.9 1310.2,741.7 1312.0,742.5 1313.8,743.4 1315.5,744.3 1317.3,745.3 1319.1,746.2 1320.8,747.2 1322.6,748.1 1324.3,749.1 1326.1,750.0 1327.8,751.0 1329.6,752.0 1331.3,753.1 1333.0,754.1 1334.7,755.1 1336.4,756.2 1338.0,757.3 1339.7,758.4 1341.3,759.6 1342.9,760.8 1344.5,762.0 1346.0,763.3 1347.5,764.7 1348.9,766.1 1350.3,767.5 1351.7,768.9 1353.1,770.4 1354.5,771.8 1355.8,773.3 1357.2,774.8 1358.5,776.2 1359.9,777.7 1361.2,779.2 1362.5,780.7 1363.9,782.2 1365.2,783.7 1366.5,785.2 1367.8,786.7 1369.2,788.2 1370.5,789.7 1371.9,791.1 1373.4,792.5 1374.8,793.8 1376.3,795.2 1377.8,796.5 1379.4,797.8 1380.9,799.0 1382.5,800.2 1384.2,801.3 1385.8,802.5 1387.5,803.6 1389.1,804.8 1390.7,806.0 1392.2,807.3 1393.7,808.6 1395.2,810.0 1396.6,811.3 1398.1,812.7 1399.5,814.1 1400.9,815.6 1402.2,817.1 1403.5,818.5 1404.9,820.0 1406.2,821.5 1407.5,823.0 1408.9,824.5 1410.2,826.0 1411.5,827.5 1412.8,829.0 1414.2,830.5 1415.6,831.9 1417.0,833.3 1418.5,834.7 1420.0,836.0 1421.5,837.2 1423.1,838.4 1424.8,839.6 1426.5,840.6 1428.2,841.6 1430.0,842.5 1431.9,843.2 1433.8,843.9 1435.7,844.3 1437.6,844.7 1439.6,844.9 1441.6,845.0 1443.6,845.1 1445.6,845.1 1447.6,845.0 1449.6,844.9 1451.6,844.7 1453.6,844.5 1455.6,844.2 1457.5,843.8 1459.5,843.4 1461.4,843.0 1463.4,842.6 1465.4,842.3 1467.3,841.9 1469.3,841.4 1471.2,841.0 1473.2,840.5 1475.1,839.9 1477.0,839.3 1478.9,838.7 1480.8,838.1 1482.7,837.4 1484.5,836.7 1486.4,835.9 1488.2,835.1 1490.0,834.2 1491.7,833.2 1493.4,832.1 1495.0,831.0 1496.6,829.8 1498.2,828.5 1499.8,827.3 1501.3,826.0 1502.8,824.7 1504.3,823.4 1505.8,822.1 1507.3,820.8 1508.8,819.5 1510.4,818.1 1511.9,816.8 1513.3,815.5 1514.8,814.1 1516.3,812.8 1517.8,811.5 1519.3,810.1 1520.8,808.8 1522.2,807.4 1523.7,806.1 1525.2,804.7 1526.7,803.4 1528.2,802.1 1529.7,800.8 1531.3,799.6 1532.9,798.4 1534.6,797.4 1536.4,796.4 1538.2,795.5 1539.9,794.5 1541.6,793.5 1543.3,792.4 1544.9,791.3 1546.6,790.1 1548.1,788.9 1549.6,787.6 1551.1,786.2 1552.5,784.8 1553.8,783.3 1555.1,781.8 1556.4,780.2 1557.6,778.6 1558.8,777.0 1559.8,775.3 1560.9,773.6 1561.8,771.9 1562.7,770.1 1563.5,768.3 1564.3,766.4 1565.1,764.6 1565.8,762.7 1566.6,760.9 1567.3,759.0 1568.0,757.1 1568.7,755.3 1569.5,753.4 1570.2,751.5 1570.9,749.7 1571.7,747.8 1572.4,746.0 1573.1,744.1 1573.8,742.2 1574.6,740.4 1575.3,738.5 1576.0,736.6 1576.7,734.8 1577.5,732.9 1578.1,731.0 1578.8,729.1 1579.5,727.3 1580.1,725.4 1580.8,723.5 1581.5,721.6 1582.2,719.7 1583.0,717.9 1583.8,716.1 1584.7,714.3 1585.6,712.5 1586.5,710.7 1587.5,709.0 1588.4,707.2 1589.4,705.5 1590.4,703.7 1591.4,702.0 1592.4,700.3 1593.5,698.6 1594.5,696.9 1595.6,695.2 1596.7,693.5 1597.9,691.9 1599.0,690.3 1600.2,688.7 1601.5,687.1 1602.8,685.6 1604.1,684.1 1605.4,682.6 1606.8,681.2 1608.3,679.8 1609.8,678.5 1611.3,677.2 1612.9,676.0 1614.5,674.8 1616.1,673.6 1617.7,672.4 1619.3,671.2 1621.0,670.1 1622.6,669.0 1624.3,667.8 1625.9,666.7 1627.6,665.5 1629.2,664.4 1630.9,663.3 1632.5,662.1 1634.1,660.9 1635.6,659.6 1637.1,658.3 1638.6,657.0 1640.1,655.7 1641.6,654.3 1643.1,653.0 1644.6,651.6 1646.1,650.3 1647.5,649.0 1649.0,647.6 1650.5,646.3 1652.0,645.0 1653.5,643.6 1655.0,642.3 1656.5,641.0 1658.1,639.7 1659.6,638.5 1661.1,637.2 1662.7,636.0 1664.4,634.9 1666.1,633.9 1668.0,633.2 1669.9,632.6 1671.8,632.1 1673.8,631.7 1675.7,631.5 1677.7,631.3 1679.7,631.2 1681.7,631.2 1683.7,631.2 1685.7,631.4 1687.7,631.6 1689.7,631.8 1691.7,632.1 1693.6,632.4 1695.6,632.7 1697.6,632.9 1699.6,633.2 1701.6,633.5 1703.5,633.8 1705.5,634.2 1707.4,634.6 1709.3,635.3 1711.1,636.1 1712.9,637.0 1714.7,638.0 1716.3,639.0 1718.0,640.2 1719.6,641.4 1721.2,642.6 1722.7,643.9 1724.2,645.2 1725.7,646.5 1727.2,647.8 1728.7,649.2 1730.1,650.6 1731.5,652.0 1732.9,653.5 1734.2,654.9 1735.6,656.4 1736.9,657.9 1738.2,659.4 1739.5,660.9 1740.8,662.4 1742.2,663.9 1743.5,665.4 1744.8,666.9 1746.2,668.4 1747.5,669.9 1748.9,671.3 1750.3,672.8 1751.7,674.2 1753.0,675.7 1754.4,677.1 1755.7,678.6 1757.1,680.1 1758.4,681.6 1759.7,683.1 1761.0,684.7 1762.2,686.2 1763.4,687.8 1764.7,689.4 1765.9,691.0 1767.0,692.6 1768.2,694.2 1769.4,695.9 1770.5,697.5 1771.7,699.1 1772.8,700.8 1774.0,702.4 1775.1,704.1 1776.2,705.7 1777.3,707.4 1778.5,709.0 1779.6,710.7 1780.6,712.4 1781.7,714.1 1782.8,715.7 1783.9,717.4 1785.0,719.1 1786.0,720.8 1787.1,722.5 1788.1,724.2 1789.2,725.9 1790.2,727.6 1791.3,729.3 1792.3,730.9 1793.1,732.2 1793.9,733.5" fill="none" stroke="#0000ff" stroke-width="3" stroke-linejoin="round" stroke-linecap="round"/><circle cx="1224.5" cy="681.6" r="4.6" fill="#000"/><circle cx="1481.2" cy="830.4" r="4.6" fill="#000"/><circle cx="1562.8" cy="774.5" r="4.6" fill="#000"/><circle cx="1617" cy="691.6" r="4.6" fill="#000"/><circle cx="1752.8" cy="686.1" r="4.6" fill="#000"/></g>
<g stroke="#262626" stroke-width="2"><line x1="1272.78" y1="929.8" x2="1272.78" y2="921.8"/><line x1="1272.78" y1="604" x2="1272.78" y2="612"/><line x1="1449.25" y1="929.8" x2="1449.25" y2="921.8"/><line x1="1449.25" y1="604" x2="1449.25" y2="612"/><line x1="1625.72" y1="929.8" x2="1625.72" y2="921.8"/><line x1="1625.72" y1="604" x2="1625.72" y2="612"/><line x1="1096.3" y1="685.45" x2="1104.3" y2="685.45"/><line x1="1802.2" y1="685.45" x2="1794.2" y2="685.45"/><line x1="1096.3" y1="766.9" x2="1104.3" y2="766.9"/><line x1="1802.2" y1="766.9" x2="1794.2" y2="766.9"/><line x1="1096.3" y1="848.35" x2="1104.3" y2="848.35"/><line x1="1802.2" y1="848.35" x2="1794.2" y2="848.35"/><rect x="1096.3" y="604" width="705.9" height="325.8" fill="none" stroke-width="2.2"/></g>
<g font-size="37.5"><text x="1084.7" y="614.2" text-anchor="end">1.2</text><text x="1084.7" y="695.65" text-anchor="end">0.6</text><text x="1084.7" y="777.1" text-anchor="end">0</text><text x="1084.7" y="858.55" text-anchor="end"><tspan font-size="48" dy="6.6">−</tspan><tspan dx="-0.8" dy="-6.6">0.6</tspan></text><text x="1084.7" y="940" text-anchor="end"><tspan font-size="48" dy="6.6">−</tspan><tspan dx="-0.8" dy="-6.6">1.2</tspan></text><text x="1096.3" y="971.8" text-anchor="middle">0</text><text x="1272.78" y="971.8" text-anchor="middle">130</text><text x="1449.25" y="971.8" text-anchor="middle">260</text><text x="1625.72" y="971.8" text-anchor="middle">390</text><text x="1802.2" y="971.8" text-anchor="middle">520</text></g>
<text x="1449.25" y="1025" font-size="40.7" text-anchor="middle">distance (m)</text>
<text transform="translate(996,766.9) rotate(-90)" font-size="40.7" text-anchor="middle">AMP</text>
<text x="1319.9" y="648.8" font-size="37.5">4<tspan font-size="29.5" dy="-18">th</tspan><tspan dy="18"> mode</tspan></text>
<g stroke="#dcdcdc" stroke-width="2"><line x1="335.02" y1="1152" x2="335.02" y2="1481"/><line x1="511.45" y1="1152" x2="511.45" y2="1481"/><line x1="687.88" y1="1152" x2="687.88" y2="1481"/><line x1="158.6" y1="1234.25" x2="864.3" y2="1234.25"/><line x1="158.6" y1="1316.5" x2="864.3" y2="1316.5"/><line x1="158.6" y1="1398.75" x2="864.3" y2="1398.75"/></g>
<g><path d="M158.7,1304.3L160.5,1302.9 161.9,1301.8 163.5,1300.6 165.0,1299.4 166.7,1298.2 168.3,1297.1 169.9,1295.9 171.5,1294.7 173.1,1293.5 174.8,1292.4 176.4,1291.2 178.0,1290.1 179.7,1288.9 181.3,1287.8 183.0,1286.7 184.7,1285.6 186.4,1284.6 188.1,1283.5 189.8,1282.5 191.5,1281.4 193.2,1280.4 195.0,1279.5 196.7,1278.5 198.5,1277.6 200.3,1276.8 202.2,1276.0 204.0,1275.3 205.9,1274.6 207.8,1274.0 209.7,1273.4 211.7,1272.9 213.6,1272.5 215.6,1272.1 217.5,1271.7 219.5,1271.4 221.5,1271.1 223.5,1270.9 225.5,1270.7 227.5,1270.6 229.5,1270.5 231.5,1270.5 233.5,1270.5 235.5,1270.5 237.5,1270.6 239.4,1270.8 241.4,1271.0 243.4,1271.2 245.4,1271.5 247.4,1271.8 249.3,1272.2 251.3,1272.6 253.2,1273.1 255.2,1273.6 257.1,1274.2 259.0,1274.8 260.9,1275.5 262.7,1276.2 264.6,1276.9 266.4,1277.7 268.3,1278.4 270.1,1279.2 271.9,1280.1 273.7,1280.9 275.5,1281.8 277.3,1282.7 279.1,1283.6 280.9,1284.5 282.7,1285.5 284.4,1286.4 286.2,1287.3 288.0,1288.3 289.7,1289.2 291.5,1290.2 293.2,1291.1 295.0,1292.1 296.7,1293.1 298.5,1294.1 300.2,1295.1 301.9,1296.1 303.6,1297.1 305.3,1298.2 307.0,1299.3 308.7,1300.4 310.3,1301.5 312.0,1302.6 313.7,1303.7 315.4,1304.8 317.0,1305.9 318.7,1306.9 320.4,1308.0 322.1,1309.1 323.8,1310.1 325.5,1311.2 327.2,1312.2 328.9,1313.3 330.6,1314.3 332.4,1315.3 334.1,1316.2 335.9,1317.2 337.7,1318.1 339.5,1319.0 341.3,1319.8 343.1,1320.7 344.9,1321.5 346.7,1322.3 348.6,1323.0 350.5,1323.8 352.3,1324.4 354.2,1325.0 356.2,1325.5 358.1,1326.0 360.1,1326.3 362.1,1326.6 364.1,1326.7 366.0,1326.7 368.0,1326.5 369.9,1326.0 371.8,1325.3 373.6,1324.5 375.3,1323.6 377.1,1322.5 378.7,1321.5 380.4,1320.3 381.9,1319.0 383.4,1317.7 384.9,1316.4 386.4,1315.0 387.8,1313.6 389.2,1312.2 390.5,1310.7 391.9,1309.2 393.2,1307.7 394.4,1306.1 395.6,1304.5 396.8,1302.9 397.9,1301.3 399.1,1299.6 400.2,1298.0 401.3,1296.3 402.3,1294.6 403.4,1292.9 404.6,1291.3 405.7,1289.6 406.8,1288.0 408.0,1286.4 409.2,1284.7 410.3,1283.1 411.5,1281.5 412.7,1279.9 413.9,1278.3 415.2,1276.7 416.4,1275.2 417.7,1273.6 419.0,1272.1 420.3,1270.6 421.6,1269.1 423.0,1267.7 424.4,1266.2 425.7,1264.7 427.1,1263.2 428.4,1261.8 429.8,1260.3 431.1,1258.8 432.5,1257.3 433.8,1255.9 435.2,1254.4 436.5,1252.9 437.8,1251.4 439.2,1249.9 440.5,1248.4 441.7,1246.8 443.0,1245.3 444.2,1243.7 445.4,1242.1 446.6,1240.5 447.9,1238.9 449.1,1237.4 450.3,1235.8 451.5,1234.2 452.8,1232.6 454.0,1231.1 455.2,1229.5 456.5,1227.9 457.8,1226.4 459.0,1224.8 460.3,1223.3 461.6,1221.8 462.9,1220.3 464.3,1218.8 465.6,1217.3 467.0,1215.9 468.3,1214.4 469.7,1212.9 471.1,1211.5 472.5,1210.1 473.9,1208.7 475.4,1207.3 476.8,1205.9 478.3,1204.6 479.8,1203.3 481.4,1202.0 482.9,1200.7 484.5,1199.5 486.1,1198.3 487.7,1197.1 489.3,1195.9 490.9,1194.7 492.5,1193.5 494.1,1192.4 495.8,1191.3 497.5,1190.2 499.3,1189.2 501.0,1188.3 502.8,1187.4 504.6,1186.6 506.5,1185.8 508.3,1185.1 510.2,1184.4 512.1,1183.7 514.0,1183.0 515.9,1182.4 517.8,1181.8 519.7,1181.2 521.6,1180.7 523.6,1180.3 525.5,1180.0 527.5,1179.9 529.5,1179.8 531.5,1179.7 533.5,1179.7 535.5,1179.7 537.5,1179.7 539.5,1179.8 541.5,1179.9 543.5,1180.1 545.5,1180.3 547.5,1180.5 549.4,1180.9 551.4,1181.2 553.4,1181.6 555.3,1182.1 557.2,1182.7 559.1,1183.4 560.9,1184.1 562.8,1185.0 564.6,1185.8 566.3,1186.8 568.0,1187.8 569.8,1188.8 571.4,1189.9 573.1,1191.1 574.7,1192.2 576.3,1193.5 577.8,1194.7 579.3,1196.1 580.8,1197.4 582.2,1198.8 583.6,1200.2 585.0,1201.7 586.4,1203.1 587.7,1204.6 589.1,1206.0 590.5,1207.5 591.8,1209.0 593.2,1210.4 594.6,1211.8 596.0,1213.3 597.4,1214.7 598.8,1216.1 600.2,1217.6 601.6,1219.0 603.0,1220.5 604.3,1221.9 605.6,1223.4 606.9,1225.0 608.2,1226.5 609.4,1228.1 610.6,1229.7 611.7,1231.4 612.9,1233.0 614.0,1234.7 615.0,1236.4 616.1,1238.0 617.2,1239.7 618.2,1241.5 619.2,1243.2 620.3,1244.9 621.3,1246.6 622.3,1248.3 623.3,1250.0 624.3,1251.8 625.4,1253.5 626.4,1255.2 627.4,1256.9 628.5,1258.6 629.5,1260.3 630.5,1262.1 631.5,1263.8 632.6,1265.5 633.6,1267.2 634.6,1268.9 635.6,1270.7 636.6,1272.4 637.6,1274.1 638.7,1275.8 639.7,1277.6 640.7,1279.3 641.7,1281.0 642.7,1282.8 643.7,1284.5 644.7,1286.2 645.7,1287.9 646.7,1289.7 647.7,1291.4 648.7,1293.1 649.7,1294.9 650.7,1296.6 651.6,1298.4 652.6,1300.1 653.6,1301.8 654.6,1303.6 655.5,1305.3 656.5,1307.1 657.4,1308.9 658.4,1310.6 659.3,1312.4 660.2,1314.2 661.1,1316.0 662.0,1317.7 662.9,1319.5 663.8,1321.3 664.6,1323.2 665.5,1325.0 666.3,1326.8 667.2,1328.6 668.0,1330.4 668.8,1332.2 669.7,1334.0 670.5,1335.8 671.4,1337.7 672.2,1339.5 673.1,1341.3 674.0,1343.1 674.8,1344.9 675.7,1346.7 676.6,1348.4 677.5,1350.2 678.5,1352.0 679.4,1353.8 680.3,1355.5 681.2,1357.3 682.2,1359.1 683.1,1360.8 684.1,1362.6 685.0,1364.4 686.0,1366.1 687.0,1367.9 688.0,1369.6 689.0,1371.3 690.0,1373.1 691.0,1374.8 692.0,1376.5 693.1,1378.2 694.1,1379.9 695.2,1381.6 696.3,1383.2 697.4,1384.9 698.5,1386.6 699.7,1388.2 700.8,1389.8 702.0,1391.5 703.2,1393.1 704.4,1394.7 705.6,1396.3 706.8,1397.9 708.1,1399.4 709.3,1401.0 710.6,1402.5 711.9,1404.0 713.3,1405.5 714.6,1407.0 716.0,1408.4 717.4,1409.8 718.8,1411.2 720.3,1412.6 721.7,1414.0 723.2,1415.4 724.7,1416.7 726.1,1418.1 727.6,1419.4 729.1,1420.7 730.6,1422.0 732.1,1423.3 733.7,1424.6 735.2,1425.9 736.8,1427.1 738.4,1428.3 740.0,1429.5 741.7,1430.6 743.3,1431.7 745.0,1432.7 746.8,1433.7 748.6,1434.6 750.4,1435.5 752.2,1436.3 754.0,1437.1 755.9,1437.8 757.8,1438.5 759.7,1439.1 761.6,1439.6 763.6,1440.0 765.5,1440.2 767.5,1440.3 769.5,1440.2 771.5,1439.9 773.5,1439.5 775.4,1439.1 777.3,1438.5 779.2,1437.8 781.0,1437.0 782.8,1436.1 784.5,1435.1 786.2,1434.0 787.9,1432.9 789.5,1431.8 791.1,1430.6 792.7,1429.3 794.2,1428.1 795.7,1426.8 797.3,1425.5 798.7,1424.1 800.2,1422.8 801.7,1421.4 803.1,1420.0 804.5,1418.6 805.9,1417.2 807.3,1415.7 808.7,1414.3 810.0,1412.8 811.3,1411.3 812.7,1409.8 814.0,1408.3 815.3,1406.8 816.6,1405.2 817.8,1403.7 819.1,1402.2 820.4,1400.6 821.7,1399.1 822.9,1397.5 824.2,1395.9 825.4,1394.4 826.6,1392.8 827.8,1391.2 829.0,1389.6 830.2,1388.0 831.4,1386.4 832.6,1384.7 833.7,1383.1 834.8,1381.5 836.0,1379.8 837.1,1378.1 838.2,1376.5 839.3,1374.8 840.3,1373.1 841.4,1371.4 842.5,1369.7 843.5,1368.0 844.6,1366.3 845.7,1364.6 846.7,1363.0 847.8,1361.3 848.8,1359.6 849.9,1357.9 850.9,1356.2 852.0,1354.5 853.0,1352.9 853.8,1351.5 854.7,1350.1" fill="none" stroke="#ff00ff" stroke-width="3" stroke-dasharray="3.5 2.5"/><path d="M158.7,1302.6L160.9,1302.1 162.7,1301.7 164.6,1301.3 166.5,1300.8 168.4,1300.3 170.4,1299.8 172.3,1299.1 174.1,1298.5 176.0,1297.7 177.8,1296.9 179.6,1296.1 181.5,1295.3 183.3,1294.4 185.1,1293.6 186.9,1292.7 188.7,1291.9 190.5,1291.0 192.3,1290.2 194.1,1289.3 195.9,1288.5 197.8,1287.7 199.6,1286.9 201.5,1286.2 203.4,1285.6 205.3,1285.1 207.3,1284.6 209.2,1284.1 211.2,1283.7 213.1,1283.4 215.1,1283.1 217.1,1282.9 219.1,1282.7 221.1,1282.6 223.1,1282.5 225.1,1282.5 227.1,1282.6 229.1,1282.7 231.1,1282.9 233.0,1283.2 235.0,1283.6 236.9,1284.0 238.9,1284.6 240.8,1285.2 242.6,1285.9 244.5,1286.6 246.4,1287.3 248.2,1288.0 250.1,1288.7 252.0,1289.3 254.0,1289.8 255.9,1290.3 257.9,1290.7 259.8,1291.1 261.8,1291.4 263.8,1291.8 265.7,1292.2 267.7,1292.5 269.7,1292.9 271.6,1293.2 273.6,1293.6 275.6,1293.9 277.5,1294.2 279.5,1294.6 281.5,1295.0 283.4,1295.5 285.3,1296.1 287.2,1296.8 289.0,1297.6 290.8,1298.4 292.7,1299.2 294.4,1300.1 296.2,1301.0 298.1,1301.8 299.9,1302.7 301.7,1303.4 303.6,1304.1 305.5,1304.7 307.4,1305.3 309.4,1305.8 311.3,1306.3 313.2,1306.8 315.1,1307.4 317.0,1308.0 318.9,1308.7 320.8,1309.5 322.6,1310.3 324.4,1311.1 326.2,1311.9 328.0,1312.8 329.8,1313.6 331.7,1314.5 333.5,1315.3 335.3,1316.1 337.2,1316.8 339.0,1317.6 340.9,1318.3 342.8,1319.0 344.7,1319.6 346.6,1320.3 348.5,1320.9 350.4,1321.4 352.3,1321.9 354.3,1322.3 356.3,1322.6 358.2,1322.9 360.2,1323.2 362.2,1323.4 364.2,1323.7 366.2,1323.9 368.2,1324.1 370.2,1324.3 372.1,1324.6 374.1,1324.8 376.1,1325.0 378.1,1325.1 380.1,1325.0 382.1,1324.8 384.0,1324.4 385.9,1323.9 387.7,1323.1 389.3,1322.0 390.8,1320.7 392.1,1319.3 393.5,1317.8 394.9,1316.4 396.4,1315.0 397.8,1313.6 399.2,1312.2 400.6,1310.7 401.9,1309.3 403.2,1307.8 404.5,1306.2 405.8,1304.7 407.1,1303.1 408.3,1301.6 409.6,1300.1 410.9,1298.5 412.2,1297.1 413.6,1295.6 414.9,1294.1 416.3,1292.6 417.6,1291.1 419.0,1289.7 420.3,1288.1 421.6,1286.6 422.9,1285.1 424.2,1283.6 425.4,1282.0 426.7,1280.5 428.0,1278.9 429.2,1277.4 430.5,1275.8 431.7,1274.2 432.9,1272.6 434.1,1271.1 435.4,1269.5 436.6,1267.9 437.7,1266.3 438.9,1264.6 440.1,1263.0 441.2,1261.4 442.4,1259.7 443.5,1258.1 444.7,1256.5 445.8,1254.8 447.0,1253.2 448.1,1251.5 449.2,1249.9 450.4,1248.3 451.5,1246.6 452.7,1245.0 453.9,1243.4 455.2,1241.8 456.5,1240.3 457.8,1238.9 459.2,1237.4 460.6,1236.0 462.1,1234.7 463.6,1233.4 465.2,1232.1 466.7,1230.9 468.4,1229.7 470.0,1228.6 471.7,1227.5 473.3,1226.3 475.0,1225.2 476.6,1224.0 478.2,1222.9 479.9,1221.8 481.5,1220.6 483.2,1219.5 484.8,1218.3 486.4,1217.2 488.1,1216.0 489.7,1214.9 491.4,1213.7 493.0,1212.6 494.6,1211.5 496.3,1210.3 497.9,1209.2 499.5,1208.0 501.1,1206.8 502.7,1205.6 504.3,1204.3 505.8,1203.1 507.4,1201.8 508.9,1200.5 510.5,1199.3 512.1,1198.0 513.6,1196.8 515.2,1195.5 516.7,1194.3 518.3,1193.0 519.9,1191.8 521.5,1190.6 523.1,1189.4 524.8,1188.3 526.5,1187.4 528.3,1186.5 530.1,1185.6 531.9,1184.9 533.8,1184.1 535.7,1183.4 537.6,1182.8 539.5,1182.2 541.4,1181.6 543.3,1181.1 545.3,1180.7 547.2,1180.3 549.2,1180.1 551.2,1179.9 553.2,1179.9 555.2,1180.0 557.2,1180.2 559.1,1180.6 561.0,1181.1 562.9,1181.8 564.7,1182.6 566.5,1183.6 568.2,1184.6 569.8,1185.7 571.4,1186.9 573.0,1188.2 574.6,1189.4 576.1,1190.7 577.6,1192.0 579.1,1193.3 580.6,1194.7 582.1,1196.0 583.5,1197.4 585.0,1198.8 586.4,1200.2 587.8,1201.6 589.1,1203.1 590.5,1204.6 591.8,1206.1 593.1,1207.5 594.5,1209.0 595.8,1210.6 597.1,1212.1 598.4,1213.6 599.8,1215.1 601.1,1216.5 602.4,1218.0 603.8,1219.5 605.2,1220.9 606.6,1222.4 607.9,1223.8 609.3,1225.3 610.7,1226.7 612.0,1228.2 613.4,1229.7 614.7,1231.2 616.0,1232.7 617.3,1234.2 618.5,1235.8 619.8,1237.4 621.0,1238.9 622.2,1240.5 623.4,1242.1 624.6,1243.7 625.8,1245.3 627.0,1247.0 628.1,1248.6 629.3,1250.2 630.4,1251.9 631.5,1253.6 632.6,1255.2 633.7,1256.9 634.7,1258.6 635.8,1260.3 636.8,1262.0 637.9,1263.7 638.9,1265.5 639.9,1267.2 640.9,1268.9 641.9,1270.7 642.9,1272.4 643.8,1274.1 644.8,1275.9 645.8,1277.7 646.7,1279.4 647.6,1281.2 648.6,1283.0 649.5,1284.7 650.4,1286.5 651.3,1288.3 652.2,1290.1 653.0,1291.9 653.9,1293.7 654.7,1295.5 655.6,1297.3 656.4,1299.2 657.2,1301.0 658.0,1302.8 658.8,1304.7 659.6,1306.5 660.4,1308.3 661.2,1310.2 661.9,1312.0 662.7,1313.9 663.5,1315.7 664.3,1317.5 665.1,1319.4 665.9,1321.2 666.7,1323.0 667.5,1324.9 668.3,1326.7 669.1,1328.5 669.9,1330.4 670.6,1332.2 671.4,1334.1 672.2,1335.9 673.0,1337.7 673.7,1339.6 674.5,1341.5 675.2,1343.3 676.0,1345.2 676.7,1347.0 677.4,1348.9 678.1,1350.8 678.8,1352.6 679.5,1354.5 680.2,1356.4 680.9,1358.3 681.6,1360.1 682.3,1362.0 683.0,1363.9 683.6,1365.8 684.3,1367.7 685.0,1369.5 685.7,1371.4 686.4,1373.3 687.1,1375.2 687.7,1377.1 688.4,1378.9 689.1,1380.8 689.8,1382.7 690.5,1384.6 691.2,1386.4 691.9,1388.3 692.6,1390.2 693.3,1392.0 694.1,1393.9 694.8,1395.8 695.5,1397.6 696.3,1399.5 697.0,1401.4 697.8,1403.2 698.5,1405.1 699.3,1406.9 700.1,1408.7 701.0,1410.5 701.8,1412.3 702.8,1414.1 703.7,1415.9 704.7,1417.6 705.8,1419.3 706.9,1420.9 708.1,1422.6 709.3,1424.1 710.6,1425.6 712.0,1427.1 713.5,1428.4 715.0,1429.8 716.5,1431.0 718.1,1432.2 719.8,1433.3 721.5,1434.3 723.3,1435.2 725.1,1436.0 727.0,1436.7 728.9,1437.2 730.8,1437.6 732.8,1437.8 734.8,1437.8 736.8,1437.7 738.8,1437.5 740.8,1437.2 742.7,1436.8 744.6,1436.3 746.6,1435.7 748.4,1435.1 750.3,1434.4 752.2,1433.7 754.1,1433.0 755.9,1432.3 757.8,1431.5 759.6,1430.8 761.5,1430.0 763.4,1429.3 765.2,1428.6 767.1,1427.9 769.0,1427.2 770.9,1426.6 772.8,1426.1 774.8,1425.5 776.7,1425.0 778.6,1424.5 780.5,1423.9 782.4,1423.3 784.3,1422.6 786.2,1422.0 788.1,1421.2 789.9,1420.5 791.8,1419.7 793.6,1418.9 795.4,1418.1 797.2,1417.2 799.0,1416.3 800.7,1415.3 802.4,1414.3 804.1,1413.1 805.7,1412.0 807.2,1410.7 808.7,1409.4 810.2,1408.0 811.6,1406.6 812.9,1405.1 814.3,1403.6 815.6,1402.1 816.9,1400.6 818.2,1399.1 819.4,1397.5 820.7,1395.9 821.9,1394.4 823.1,1392.8 824.3,1391.2 825.5,1389.6 826.7,1388.0 827.9,1386.4 829.1,1384.7 830.2,1383.1 831.4,1381.5 832.5,1379.8 833.7,1378.2 834.8,1376.6 835.9,1374.9 837.1,1373.3 838.3,1371.6 839.4,1370.0 840.6,1368.4 841.8,1366.8 843.0,1365.2 844.3,1363.7 845.6,1362.2 846.9,1360.7 848.3,1359.2 849.6,1357.7 851.0,1356.3 852.4,1354.9 853.7,1353.6 854.7,1352.6 855.5,1351.8" fill="none" stroke="#0000ff" stroke-width="3" stroke-linejoin="round" stroke-linecap="round"/><circle cx="286.5" cy="1267.2" r="4.6" fill="#000"/><circle cx="542.8" cy="1206.1" r="4.6" fill="#000"/><circle cx="624.5" cy="1257.5" r="4.6" fill="#000"/><circle cx="678.3" cy="1340.9" r="4.6" fill="#000"/><circle cx="814.8" cy="1391.7" r="4.6" fill="#000"/></g>
<g stroke="#262626" stroke-width="2"><line x1="335.02" y1="1481" x2="335.02" y2="1473"/><line x1="335.02" y1="1152" x2="335.02" y2="1160"/><line x1="511.45" y1="1481" x2="511.45" y2="1473"/><line x1="511.45" y1="1152" x2="511.45" y2="1160"/><line x1="687.88" y1="1481" x2="687.88" y2="1473"/><line x1="687.88" y1="1152" x2="687.88" y2="1160"/><line x1="158.6" y1="1234.25" x2="166.6" y2="1234.25"/><line x1="864.3" y1="1234.25" x2="856.3" y2="1234.25"/><line x1="158.6" y1="1316.5" x2="166.6" y2="1316.5"/><line x1="864.3" y1="1316.5" x2="856.3" y2="1316.5"/><line x1="158.6" y1="1398.75" x2="166.6" y2="1398.75"/><line x1="864.3" y1="1398.75" x2="856.3" y2="1398.75"/><rect x="158.6" y="1152" width="705.7" height="329" fill="none" stroke-width="2.2"/></g>
<g font-size="37.5"><text x="147" y="1162.2" text-anchor="end">1.2</text><text x="147" y="1244.45" text-anchor="end">0.6</text><text x="147" y="1326.7" text-anchor="end">0</text><text x="147" y="1408.95" text-anchor="end"><tspan font-size="48" dy="6.6">−</tspan><tspan dx="-0.8" dy="-6.6">0.6</tspan></text><text x="147" y="1491.2" text-anchor="end"><tspan font-size="48" dy="6.6">−</tspan><tspan dx="-0.8" dy="-6.6">1.2</tspan></text><text x="158.6" y="1523" text-anchor="middle">0</text><text x="335.02" y="1523" text-anchor="middle">130</text><text x="511.45" y="1523" text-anchor="middle">260</text><text x="687.88" y="1523" text-anchor="middle">390</text><text x="864.3" y="1523" text-anchor="middle">520</text></g>
<text x="511.45" y="1576.2" font-size="40.7" text-anchor="middle">distance (m)</text>
<text transform="translate(58.3,1316.5) rotate(-90)" font-size="40.7" text-anchor="middle">AMP</text>
<text x="293.7" y="1198.8" font-size="37.5">5<tspan font-size="29.5" dy="-18">th</tspan><tspan dy="18"> mode</tspan></text>
<g stroke="#dcdcdc" stroke-width="2"><line x1="1272.78" y1="1156.5" x2="1272.78" y2="1482"/><line x1="1449.25" y1="1156.5" x2="1449.25" y2="1482"/><line x1="1625.72" y1="1156.5" x2="1625.72" y2="1482"/><line x1="1096.3" y1="1237.88" x2="1802.2" y2="1237.88"/><line x1="1096.3" y1="1319.25" x2="1802.2" y2="1319.25"/><line x1="1096.3" y1="1400.62" x2="1802.2" y2="1400.62"/></g>
<g><path d="M1096.2,1329.7L1098.1,1331.0 1099.5,1332.0 1101.1,1333.1 1102.7,1334.3 1104.3,1335.5 1105.9,1336.8 1107.4,1338.1 1108.9,1339.4 1110.3,1340.8 1111.7,1342.2 1113.1,1343.7 1114.4,1345.2 1115.7,1346.7 1117.0,1348.2 1118.3,1349.7 1119.6,1351.3 1120.9,1352.8 1122.2,1354.4 1123.4,1355.9 1124.7,1357.5 1125.9,1359.0 1127.2,1360.6 1128.4,1362.1 1129.7,1363.7 1130.9,1365.3 1132.2,1366.8 1133.4,1368.4 1134.6,1370.0 1135.8,1371.6 1137.0,1373.2 1138.2,1374.8 1139.4,1376.4 1140.6,1378.0 1141.8,1379.6 1143.0,1381.2 1144.2,1382.8 1145.5,1384.4 1146.7,1385.9 1147.9,1387.5 1149.1,1389.1 1150.4,1390.7 1151.7,1392.2 1152.9,1393.7 1154.2,1395.3 1155.5,1396.8 1156.8,1398.3 1158.1,1399.8 1159.5,1401.3 1160.8,1402.8 1162.1,1404.3 1163.5,1405.8 1164.8,1407.2 1166.2,1408.7 1167.6,1410.1 1169.0,1411.6 1170.4,1413.0 1171.8,1414.4 1173.2,1415.9 1174.6,1417.3 1176.0,1418.7 1177.4,1420.1 1178.9,1421.5 1180.3,1422.9 1181.8,1424.2 1183.3,1425.6 1184.7,1426.9 1186.2,1428.3 1187.7,1429.6 1189.3,1430.9 1190.8,1432.1 1192.4,1433.4 1194.0,1434.6 1195.6,1435.8 1197.2,1436.9 1198.9,1438.1 1200.5,1439.2 1202.2,1440.3 1203.9,1441.3 1205.6,1442.3 1207.4,1443.3 1209.1,1444.3 1210.9,1445.2 1212.7,1446.1 1214.5,1446.9 1216.3,1447.7 1218.2,1448.4 1220.1,1449.1 1222.0,1449.8 1223.9,1450.4 1225.8,1451.0 1227.7,1451.5 1229.7,1451.9 1231.6,1452.4 1233.6,1452.8 1235.5,1453.1 1237.5,1453.4 1239.5,1453.7 1241.5,1453.9 1243.5,1454.0 1245.5,1454.1 1247.5,1454.2 1249.5,1454.2 1251.5,1454.2 1253.5,1454.2 1255.5,1454.1 1257.5,1454.0 1259.5,1453.9 1261.5,1453.7 1263.4,1453.5 1265.4,1453.3 1267.4,1453.0 1269.4,1452.7 1271.3,1452.3 1273.3,1451.8 1275.2,1451.3 1277.1,1450.8 1279.0,1450.2 1280.9,1449.5 1282.8,1448.8 1284.6,1448.0 1286.5,1447.2 1288.3,1446.4 1290.1,1445.5 1291.9,1444.6 1293.7,1443.7 1295.4,1442.8 1297.2,1441.8 1298.9,1440.8 1300.7,1439.8 1302.4,1438.8 1304.1,1437.8 1305.8,1436.7 1307.5,1435.7 1309.2,1434.6 1310.8,1433.5 1312.5,1432.3 1314.1,1431.2 1315.7,1430.0 1317.3,1428.8 1318.9,1427.5 1320.4,1426.3 1322.0,1425.0 1323.5,1423.7 1325.0,1422.4 1326.5,1421.0 1327.9,1419.7 1329.4,1418.3 1330.9,1417.0 1332.3,1415.6 1333.8,1414.2 1335.2,1412.9 1336.7,1411.5 1338.2,1410.2 1339.7,1408.8 1341.2,1407.5 1342.7,1406.1 1344.2,1404.8 1345.7,1403.5 1347.2,1402.2 1348.7,1400.9 1350.2,1399.5 1351.6,1398.2 1353.1,1396.9 1354.6,1395.5 1356.1,1394.2 1357.6,1392.8 1359.0,1391.4 1360.5,1390.1 1361.9,1388.7 1363.3,1387.2 1364.7,1385.8 1366.1,1384.4 1367.5,1383.0 1368.9,1381.5 1370.3,1380.1 1371.7,1378.7 1373.1,1377.2 1374.5,1375.8 1375.9,1374.4 1377.3,1373.0 1378.8,1371.6 1380.2,1370.2 1381.7,1368.8 1383.1,1367.5 1384.6,1366.1 1386.1,1364.7 1387.5,1363.4 1389.0,1362.1 1390.5,1360.7 1392.0,1359.4 1393.5,1358.1 1395.0,1356.7 1396.5,1355.4 1398.0,1354.1 1399.5,1352.8 1401.1,1351.5 1402.6,1350.2 1404.1,1349.0 1405.7,1347.7 1407.2,1346.4 1408.8,1345.2 1410.4,1343.9 1411.9,1342.7 1413.5,1341.5 1415.1,1340.2 1416.6,1339.0 1418.2,1337.7 1419.8,1336.5 1421.3,1335.3 1422.9,1334.0 1424.5,1332.8 1426.0,1331.5 1427.6,1330.3 1429.2,1329.1 1430.8,1327.8 1432.3,1326.6 1433.9,1325.3 1435.5,1324.1 1437.0,1322.8 1438.6,1321.6 1440.1,1320.3 1441.6,1319.0 1443.2,1317.7 1444.7,1316.4 1446.1,1315.0 1447.6,1313.7 1449.1,1312.3 1450.5,1310.9 1451.9,1309.5 1453.4,1308.2 1454.9,1306.8 1456.3,1305.5 1457.8,1304.1 1459.4,1302.8 1460.9,1301.6 1462.5,1300.3 1464.1,1299.1 1465.7,1297.9 1467.3,1296.8 1469.0,1295.6 1470.6,1294.5 1472.3,1293.4 1473.9,1292.3 1475.6,1291.2 1477.2,1290.0 1478.9,1288.9 1480.6,1287.8 1482.2,1286.7 1483.9,1285.6 1485.5,1284.5 1487.2,1283.4 1488.9,1282.2 1490.5,1281.1 1492.2,1280.0 1493.9,1278.9 1495.6,1277.9 1497.2,1276.8 1498.9,1275.7 1500.6,1274.7 1502.3,1273.6 1504.1,1272.6 1505.8,1271.6 1507.5,1270.6 1509.3,1269.6 1511.0,1268.7 1512.8,1267.7 1514.5,1266.8 1516.3,1265.8 1518.1,1264.9 1519.9,1264.0 1521.6,1263.0 1523.4,1262.1 1525.2,1261.2 1526.9,1260.2 1528.7,1259.3 1530.5,1258.4 1532.2,1257.4 1534.0,1256.5 1535.8,1255.6 1537.6,1254.7 1539.4,1253.9 1541.2,1253.0 1543.0,1252.2 1544.9,1251.4 1546.7,1250.7 1548.6,1249.9 1550.5,1249.2 1552.3,1248.6 1554.2,1247.9 1556.1,1247.3 1558.0,1246.6 1559.9,1246.0 1561.9,1245.5 1563.8,1244.9 1565.7,1244.3 1567.6,1243.8 1569.6,1243.3 1571.5,1242.8 1573.4,1242.3 1575.4,1241.9 1577.3,1241.4 1579.3,1241.0 1581.2,1240.6 1583.2,1240.3 1585.2,1239.9 1587.2,1239.6 1589.1,1239.3 1591.1,1239.0 1593.1,1238.8 1595.1,1238.6 1597.1,1238.4 1599.1,1238.2 1601.1,1238.1 1603.1,1237.9 1605.1,1237.9 1607.1,1237.8 1609.1,1237.7 1611.1,1237.7 1613.1,1237.7 1615.1,1237.8 1617.1,1237.8 1619.1,1237.9 1621.1,1238.0 1623.0,1238.1 1625.0,1238.3 1627.0,1238.5 1629.0,1238.6 1631.0,1238.9 1633.0,1239.1 1635.0,1239.3 1637.0,1239.6 1638.9,1239.9 1640.9,1240.2 1642.9,1240.6 1644.8,1241.0 1646.8,1241.4 1648.8,1241.8 1650.7,1242.3 1652.6,1242.8 1654.6,1243.3 1656.5,1243.9 1658.4,1244.5 1660.3,1245.1 1662.2,1245.7 1664.1,1246.4 1666.0,1247.0 1667.8,1247.7 1669.7,1248.4 1671.6,1249.2 1673.4,1249.9 1675.3,1250.7 1677.1,1251.5 1678.9,1252.3 1680.7,1253.2 1682.6,1254.0 1684.4,1254.9 1686.2,1255.8 1687.9,1256.6 1689.7,1257.5 1691.5,1258.5 1693.3,1259.4 1695.0,1260.3 1696.8,1261.3 1698.5,1262.3 1700.3,1263.3 1702.0,1264.2 1703.8,1265.2 1705.5,1266.2 1707.3,1267.2 1709.0,1268.2 1710.8,1269.1 1712.5,1270.1 1714.3,1271.0 1716.0,1272.0 1717.8,1272.9 1719.6,1273.9 1721.3,1274.8 1723.1,1275.8 1724.8,1276.7 1726.6,1277.7 1728.3,1278.7 1730.0,1279.8 1731.7,1280.8 1733.4,1281.8 1735.1,1282.9 1736.8,1284.0 1738.5,1285.1 1740.1,1286.2 1741.8,1287.3 1743.5,1288.4 1745.1,1289.5 1746.8,1290.6 1748.5,1291.7 1750.2,1292.8 1751.8,1293.9 1753.5,1294.9 1755.2,1296.0 1756.9,1297.0 1758.6,1298.1 1760.3,1299.2 1762.0,1300.2 1763.7,1301.2 1765.5,1302.2 1767.2,1303.2 1768.9,1304.2 1770.7,1305.2 1772.5,1306.1 1774.3,1307.0 1776.1,1307.9 1777.9,1308.7 1779.7,1309.6 1781.5,1310.4 1783.3,1311.2 1785.2,1312.0 1787.0,1312.8 1788.8,1313.6 1790.4,1314.3 1791.7,1314.8 1792.6,1315.2" fill="none" stroke="#ff00ff" stroke-width="3" stroke-dasharray="3.5 2.5"/><circle cx="1224.4" cy="1416.8" r="4.6" fill="#000"/><circle cx="1481.1" cy="1288.8" r="4.6" fill="#000"/><circle cx="1562.4" cy="1255" r="4.6" fill="#000"/><circle cx="1616.7" cy="1245.3" r="4.6" fill="#000"/><circle cx="1752.7" cy="1285.7" r="4.6" fill="#000"/></g>
<g stroke="#262626" stroke-width="2"><line x1="1272.78" y1="1482" x2="1272.78" y2="1474"/><line x1="1272.78" y1="1156.5" x2="1272.78" y2="1164.5"/><line x1="1449.25" y1="1482" x2="1449.25" y2="1474"/><line x1="1449.25" y1="1156.5" x2="1449.25" y2="1164.5"/><line x1="1625.72" y1="1482" x2="1625.72" y2="1474"/><line x1="1625.72" y1="1156.5" x2="1625.72" y2="1164.5"/><line x1="1096.3" y1="1237.88" x2="1104.3" y2="1237.88"/><line x1="1802.2" y1="1237.88" x2="1794.2" y2="1237.88"/><line x1="1096.3" y1="1319.25" x2="1104.3" y2="1319.25"/><line x1="1802.2" y1="1319.25" x2="1794.2" y2="1319.25"/><line x1="1096.3" y1="1400.62" x2="1104.3" y2="1400.62"/><line x1="1802.2" y1="1400.62" x2="1794.2" y2="1400.62"/><rect x="1096.3" y="1156.5" width="705.9" height="325.5" fill="none" stroke-width="2.2"/></g>
<g font-size="37.5"><text x="1084.7" y="1166.7" text-anchor="end">1.2</text><text x="1084.7" y="1248.08" text-anchor="end">0.6</text><text x="1084.7" y="1329.45" text-anchor="end">0</text><text x="1084.7" y="1410.83" text-anchor="end"><tspan font-size="48" dy="6.6">−</tspan><tspan dx="-0.8" dy="-6.6">0.6</tspan></text><text x="1084.7" y="1492.2" text-anchor="end"><tspan font-size="48" dy="6.6">−</tspan><tspan dx="-0.8" dy="-6.6">1.2</tspan></text><text x="1096.3" y="1524" text-anchor="middle">0</text><text x="1272.78" y="1524" text-anchor="middle">130</text><text x="1449.25" y="1524" text-anchor="middle">260</text><text x="1625.72" y="1524" text-anchor="middle">390</text><text x="1802.2" y="1524" text-anchor="middle">520</text></g>
<text x="1449.25" y="1577.2" font-size="40.7" text-anchor="middle">distance (m)</text>
<text transform="translate(996,1319.25) rotate(-90)" font-size="40.7" text-anchor="middle">AMP</text>
<text x="1319.5" y="1202.6" font-size="37.5">6<tspan font-size="29.5" dy="-18">th</tspan><tspan dy="18"> mode</tspan></text>
<g stroke="#dcdcdc" stroke-width="2"><line x1="335.02" y1="1707" x2="335.02" y2="2034"/><line x1="511.45" y1="1707" x2="511.45" y2="2034"/><line x1="687.88" y1="1707" x2="687.88" y2="2034"/><line x1="158.6" y1="1788.75" x2="864.3" y2="1788.75"/><line x1="158.6" y1="1870.5" x2="864.3" y2="1870.5"/><line x1="158.6" y1="1952.25" x2="864.3" y2="1952.25"/></g>
<g><path d="M158.7,1828.5L159.3,1826.3 159.7,1824.6 160.2,1822.7 160.7,1820.7 161.1,1818.8 161.6,1816.9 162.1,1814.9 162.6,1813.0 163.2,1811.1 163.7,1809.1 164.2,1807.2 164.8,1805.3 165.4,1803.4 165.9,1801.5 166.5,1799.5 167.1,1797.6 167.8,1795.7 168.4,1793.8 169.0,1792.0 169.7,1790.1 170.4,1788.2 171.1,1786.3 171.8,1784.5 172.6,1782.6 173.4,1780.8 174.2,1778.9 175.1,1777.1 175.9,1775.3 176.8,1773.6 177.8,1771.8 178.7,1770.0 179.7,1768.3 180.7,1766.5 181.7,1764.8 182.7,1763.1 183.7,1761.3 184.7,1759.6 185.7,1757.9 186.7,1756.2 187.8,1754.5 188.8,1752.8 189.9,1751.1 191.0,1749.4 192.1,1747.7 193.3,1746.1 194.5,1744.6 195.8,1743.1 197.2,1741.6 198.6,1740.1 200.0,1738.8 201.5,1737.5 203.1,1736.3 204.9,1735.5 206.7,1734.9 208.6,1734.9 210.5,1735.2 212.4,1735.9 214.1,1736.8 215.7,1738.0 217.3,1739.2 218.7,1740.6 220.1,1742.0 221.4,1743.6 222.5,1745.2 223.7,1746.8 224.7,1748.5 225.7,1750.2 226.7,1752.0 227.7,1753.7 228.7,1755.5 229.6,1757.2 230.5,1759.0 231.5,1760.8 232.3,1762.6 233.2,1764.4 234.1,1766.2 234.9,1768.0 235.7,1769.8 236.5,1771.7 237.3,1773.5 238.0,1775.4 238.7,1777.3 239.4,1779.1 240.0,1781.0 240.6,1782.9 241.1,1784.9 241.7,1786.8 242.2,1788.7 242.7,1790.7 243.2,1792.6 243.7,1794.5 244.2,1796.5 244.7,1798.4 245.2,1800.3 245.8,1802.3 246.3,1804.2 246.8,1806.1 247.3,1808.1 247.8,1810.0 248.3,1811.9 248.8,1813.9 249.3,1815.8 249.8,1817.7 250.3,1819.7 250.9,1821.6 251.4,1823.5 252.0,1825.4 252.6,1827.4 253.2,1829.3 253.8,1831.2 254.4,1833.1 255.0,1835.0 255.7,1836.8 256.4,1838.7 257.2,1840.6 258.0,1842.4 258.9,1844.2 259.9,1845.9 260.9,1847.6 262.0,1849.3 263.1,1850.9 264.3,1852.6 265.5,1854.2 266.6,1855.8 267.8,1857.5 268.9,1859.1 270.1,1860.7 271.2,1862.4 272.4,1864.0 273.6,1865.6 274.7,1867.3 275.8,1868.9 276.8,1870.6 277.8,1872.4 278.8,1874.1 279.7,1875.9 280.6,1877.7 281.4,1879.5 282.3,1881.3 283.1,1883.1 283.9,1885.0 284.7,1886.8 285.4,1888.7 286.2,1890.5 286.9,1892.4 287.6,1894.3 288.2,1896.2 288.9,1898.0 289.5,1899.9 290.1,1901.9 290.7,1903.8 291.2,1905.7 291.7,1907.6 292.3,1909.6 292.8,1911.5 293.3,1913.4 293.8,1915.4 294.3,1917.3 294.8,1919.2 295.3,1921.2 295.8,1923.1 296.3,1925.0 296.9,1927.0 297.4,1928.9 297.9,1930.8 298.4,1932.8 298.9,1934.7 299.4,1936.6 299.9,1938.6 300.3,1940.5 300.8,1942.5 301.4,1944.4 301.9,1946.3 302.4,1948.2 303.0,1950.2 303.6,1952.1 304.2,1954.0 304.9,1955.8 305.6,1957.7 306.4,1959.6 307.1,1961.4 307.9,1963.3 308.7,1965.1 309.6,1966.9 310.4,1968.7 311.3,1970.5 312.2,1972.3 313.1,1974.1 314.1,1975.8 315.1,1977.6 316.1,1979.3 317.1,1981.0 318.2,1982.7 319.2,1984.4 320.4,1986.0 321.5,1987.7 322.7,1989.3 323.9,1990.9 325.1,1992.4 326.4,1994.0 327.7,1995.5 329.0,1997.0 330.3,1998.5 331.7,2000.0 333.1,2001.4 334.6,2002.8 336.1,2004.1 337.7,2005.3 339.4,2006.2 341.2,2006.8 343.0,2006.8 344.9,2006.4 346.7,2005.7 348.5,2004.8 350.2,2003.8 351.8,2002.6 353.4,2001.4 354.8,2000.0 356.2,1998.6 357.5,1997.0 358.7,1995.4 359.7,1993.7 360.7,1992.0 361.6,1990.2 362.4,1988.4 363.2,1986.5 363.9,1984.7 364.6,1982.8 365.3,1980.9 365.9,1979.0 366.5,1977.1 367.1,1975.2 367.7,1973.3 368.3,1971.4 368.9,1969.5 369.5,1967.6 370.0,1965.6 370.6,1963.7 371.2,1961.8 371.7,1959.9 372.3,1958.0 372.9,1956.1 373.4,1954.1 374.0,1952.2 374.5,1950.3 375.0,1948.4 375.6,1946.4 376.1,1944.5 376.6,1942.6 377.1,1940.6 377.6,1938.7 378.1,1936.8 378.6,1934.8 379.1,1932.9 379.5,1930.9 380.0,1929.0 380.5,1927.0 380.9,1925.1 381.4,1923.1 381.8,1921.2 382.2,1919.2 382.6,1917.3 383.0,1915.3 383.4,1913.3 383.8,1911.4 384.1,1909.4 384.5,1907.4 384.8,1905.5 385.1,1903.5 385.5,1901.5 385.8,1899.6 386.1,1897.6 386.5,1895.6 386.8,1893.6 387.2,1891.7 387.5,1889.7 387.9,1887.7 388.3,1885.8 388.7,1883.8 389.0,1881.9 389.4,1879.9 389.8,1877.9 390.2,1876.0 390.6,1874.0 391.0,1872.1 391.4,1870.1 391.9,1868.1 392.3,1866.2 392.8,1864.2 393.2,1862.3 393.7,1860.4 394.2,1858.4 394.7,1856.5 395.3,1854.6 395.8,1852.6 396.4,1850.7 396.9,1848.8 397.5,1846.9 398.1,1845.0 398.7,1843.1 399.4,1841.2 400.0,1839.3 400.7,1837.4 401.4,1835.5 402.1,1833.7 402.8,1831.8 403.6,1830.0 404.4,1828.1 405.3,1826.3 406.2,1824.6 407.2,1822.8 408.2,1821.1 409.3,1819.4 410.4,1817.8 411.6,1816.1 412.7,1814.5 413.9,1812.9 415.1,1811.3 416.3,1809.7 417.5,1808.1 418.6,1806.4 419.7,1804.8 420.9,1803.1 422.0,1801.5 423.1,1799.8 424.3,1798.2 425.5,1796.6 426.8,1795.1 428.1,1793.6 429.4,1792.1 430.8,1790.6 432.3,1789.2 433.7,1787.9 435.2,1786.5 436.7,1785.2 438.2,1783.9 439.7,1782.6 441.2,1781.3 442.8,1780.1 444.5,1779.0 446.2,1778.0 448.0,1777.1 449.8,1776.3 451.7,1775.6 453.6,1775.1 455.6,1774.8 457.5,1774.6 459.5,1774.8 461.4,1775.2 463.3,1775.8 465.2,1776.5 467.0,1777.3 468.8,1778.1 470.7,1778.9 472.5,1779.7 474.4,1780.5 476.2,1781.3 477.9,1782.3 479.6,1783.3 481.3,1784.5 482.8,1785.7 484.3,1787.0 485.8,1788.4 487.2,1789.8 488.7,1791.1 490.2,1792.5 491.6,1793.8 493.1,1795.1 494.6,1796.5 496.1,1797.9 497.5,1799.2 498.9,1800.7 500.3,1802.1 501.7,1803.6 503.0,1805.0 504.3,1806.5 505.6,1808.1 506.9,1809.6 508.1,1811.2 509.3,1812.8 510.4,1814.5 511.4,1816.2 512.4,1818.0 513.3,1819.8 514.1,1821.6 514.8,1823.4 515.6,1825.3 516.3,1827.2 517.0,1829.0 517.7,1830.9 518.3,1832.8 519.0,1834.7 519.6,1836.6 520.3,1838.5 521.0,1840.3 521.7,1842.2 522.4,1844.1 523.1,1846.0 523.8,1847.8 524.5,1849.7 525.2,1851.6 525.8,1853.5 526.5,1855.3 527.2,1857.2 527.8,1859.1 528.4,1861.0 529.0,1862.9 529.6,1864.9 530.2,1866.8 530.8,1868.7 531.4,1870.6 532.0,1872.5 532.6,1874.4 533.2,1876.3 533.8,1878.2 534.5,1880.1 535.1,1882.0 535.8,1883.9 536.5,1885.8 537.2,1887.6 537.9,1889.5 538.6,1891.4 539.3,1893.2 540.1,1895.1 540.9,1896.9 541.7,1898.7 542.5,1900.6 543.4,1902.3 544.3,1904.1 545.2,1905.9 546.2,1907.7 547.1,1909.4 548.1,1911.2 549.0,1912.9 550.0,1914.7 551.0,1916.4 552.0,1918.1 553.1,1919.9 554.1,1921.5 555.2,1923.2 556.3,1924.9 557.5,1926.5 558.7,1928.1 560.0,1929.6 561.3,1931.1 562.8,1932.5 564.3,1933.7 566.0,1934.8 567.7,1935.8 569.5,1936.7 571.3,1937.6 573.0,1938.5 574.8,1939.4 576.6,1940.3 578.4,1941.2 580.3,1942.0 582.1,1942.8 584.0,1943.5 585.8,1944.2 587.7,1944.8 589.7,1945.3 591.6,1945.8 593.5,1946.3 595.5,1946.8 597.4,1947.3 599.3,1947.8 601.3,1948.4 603.2,1949.0 605.1,1949.6 607.0,1950.2 608.9,1950.8 610.8,1951.3 612.7,1951.9 614.7,1952.4 616.6,1953.0 618.5,1953.5 620.5,1954.0 622.4,1954.5 624.3,1955.0 626.3,1955.4 628.2,1955.9 630.2,1956.3 632.1,1956.7 634.1,1957.1 636.1,1957.4 638.1,1957.7 640.0,1957.8 642.0,1957.8 644.0,1957.7 646.0,1957.5 648.0,1957.2 649.9,1956.8 651.9,1956.2 653.7,1955.6 655.6,1954.8 657.3,1953.8 659.0,1952.8 660.7,1951.8 662.4,1950.6 664.0,1949.5 665.7,1948.3 667.3,1947.1 668.8,1945.9 670.4,1944.7 672.0,1943.4 673.5,1942.1 675.0,1940.8 676.5,1939.5 678.0,1938.2 679.5,1936.9 681.0,1935.5 682.5,1934.2 683.9,1932.8 685.4,1931.4 686.8,1930.0 688.3,1928.6 689.7,1927.2 691.0,1925.8 692.4,1924.3 693.6,1922.7 694.8,1921.1 695.9,1919.5 697.1,1917.8 698.2,1916.2 699.4,1914.6 700.7,1913.0 701.9,1911.5 703.2,1909.9 704.5,1908.4 705.8,1906.9 707.1,1905.4 708.4,1903.8 709.6,1902.2 710.8,1900.6 712.0,1899.0 713.1,1897.4 714.3,1895.8 715.5,1894.1 716.6,1892.5 717.7,1890.8 718.9,1889.2 720.0,1887.5 721.1,1885.9 722.2,1884.2 723.3,1882.5 724.4,1880.8 725.5,1879.2 726.6,1877.5 727.7,1875.9 728.9,1874.3 730.1,1872.7 731.3,1871.1 732.5,1869.5 733.8,1867.9 735.0,1866.3 736.2,1864.7 737.4,1863.1 738.6,1861.5 739.7,1859.9 740.8,1858.2 741.9,1856.5 743.0,1854.9 744.1,1853.2 745.2,1851.5 746.3,1849.9 747.5,1848.2 748.6,1846.6 749.8,1845.0 751.0,1843.3 752.1,1841.7 753.3,1840.1 754.5,1838.5 755.6,1836.8 756.8,1835.2 757.9,1833.5 759.0,1831.9 760.1,1830.2 761.2,1828.6 762.3,1826.9 763.4,1825.2 764.5,1823.5 765.6,1821.9 766.7,1820.2 767.8,1818.5 768.9,1816.9 770.0,1815.2 771.1,1813.5 772.2,1811.9 773.3,1810.2 774.5,1808.6 775.7,1806.9 776.8,1805.3 778.0,1803.7 779.3,1802.1 780.5,1800.6 781.8,1799.0 783.1,1797.6 784.5,1796.1 786.0,1794.8 787.6,1793.6 789.3,1792.5 791.0,1791.6 792.8,1790.8 794.7,1790.2 796.7,1789.8 798.7,1789.7 800.6,1789.7 802.6,1789.9 804.6,1790.0 806.6,1790.3 808.6,1790.5 810.6,1790.9 812.5,1791.2 814.5,1791.5 816.5,1791.8 818.5,1792.0 820.5,1792.4 822.4,1792.7 824.4,1793.2 826.3,1793.7 828.2,1794.3 830.1,1795.0 831.9,1795.8 833.7,1796.7 835.4,1797.7 837.1,1798.7 838.8,1799.9 840.3,1801.1 841.8,1802.4 843.1,1803.9 844.3,1805.5 845.2,1807.2 846.1,1809.0 846.9,1810.9 847.7,1812.7 848.5,1814.5 849.2,1816.4 850.0,1818.3 850.7,1820.1 851.4,1822.0 852.1,1823.8 852.7,1825.3 853.5,1827.2" fill="none" stroke="#ff00ff" stroke-width="3" stroke-dasharray="3.5 2.5"/><path d="M158.7,1813.5L159.5,1811.3 160.0,1809.7 160.7,1807.8 161.4,1806.0 162.0,1804.1 162.7,1802.2 163.4,1800.3 164.1,1798.4 164.8,1796.6 165.5,1794.7 166.2,1792.8 167.0,1791.0 167.7,1789.1 168.4,1787.2 169.2,1785.4 169.9,1783.5 170.7,1781.7 171.5,1779.9 172.3,1778.0 173.1,1776.2 174.0,1774.4 174.9,1772.6 175.8,1770.8 176.8,1769.1 177.7,1767.3 178.7,1765.6 179.8,1763.9 180.8,1762.2 181.9,1760.5 183.0,1758.8 184.1,1757.1 185.2,1755.5 186.3,1753.8 187.4,1752.2 188.5,1750.5 189.7,1748.9 190.9,1747.3 192.1,1745.7 193.3,1744.1 194.5,1742.5 195.8,1741.0 197.2,1739.5 198.6,1738.2 200.1,1736.9 201.7,1735.7 203.5,1734.7 205.3,1734.1 207.2,1733.8 209.1,1733.9 211.0,1734.4 212.8,1735.3 214.4,1736.4 215.8,1737.7 217.2,1739.2 218.4,1740.7 219.6,1742.3 220.8,1743.9 222.0,1745.6 223.1,1747.2 224.2,1748.9 225.4,1750.5 226.5,1752.2 227.5,1753.9 228.6,1755.6 229.7,1757.3 230.7,1759.0 231.8,1760.7 232.8,1762.4 233.7,1764.2 234.7,1765.9 235.6,1767.7 236.5,1769.5 237.3,1771.3 238.1,1773.2 238.9,1775.0 239.6,1776.9 240.3,1778.7 240.9,1780.6 241.5,1782.5 242.1,1784.4 242.7,1786.4 243.2,1788.3 243.7,1790.2 244.2,1792.2 244.7,1794.1 245.1,1796.1 245.6,1798.0 246.1,1799.9 246.5,1801.9 247.0,1803.8 247.5,1805.8 248.0,1807.7 248.5,1809.7 249.0,1811.6 249.5,1813.5 250.0,1815.5 250.5,1817.4 251.0,1819.3 251.6,1821.2 252.1,1823.2 252.7,1825.1 253.2,1827.0 253.8,1828.9 254.4,1830.8 255.0,1832.8 255.6,1834.7 256.2,1836.6 256.9,1838.4 257.5,1840.3 258.2,1842.2 259.0,1844.1 259.8,1845.9 260.6,1847.7 261.6,1849.5 262.6,1851.2 263.8,1852.8 265.0,1854.4 266.3,1855.9 267.6,1857.4 269.0,1858.8 270.4,1860.2 271.8,1861.7 273.2,1863.1 274.7,1864.4 276.1,1865.8 277.6,1867.2 278.9,1868.7 280.1,1870.2 281.3,1871.9 282.3,1873.6 283.2,1875.3 284.1,1877.1 285.0,1879.0 285.7,1880.8 286.5,1882.7 287.2,1884.5 287.9,1886.4 288.5,1888.3 289.1,1890.2 289.8,1892.1 290.3,1894.0 290.9,1895.9 291.5,1897.8 292.0,1899.8 292.6,1901.7 293.1,1903.6 293.6,1905.6 294.1,1907.5 294.6,1909.4 295.1,1911.4 295.5,1913.3 296.0,1915.3 296.4,1917.2 296.9,1919.2 297.3,1921.1 297.7,1923.1 298.2,1925.0 298.6,1927.0 299.1,1928.9 299.6,1930.9 300.1,1932.8 300.5,1934.7 301.0,1936.7 301.5,1938.6 302.0,1940.6 302.5,1942.5 303.0,1944.4 303.6,1946.4 304.1,1948.3 304.7,1950.2 305.3,1952.1 305.9,1954.0 306.5,1955.9 307.2,1957.8 308.0,1959.6 308.8,1961.5 309.6,1963.3 310.5,1965.1 311.4,1966.8 312.4,1968.6 313.4,1970.3 314.4,1972.1 315.4,1973.8 316.5,1975.5 317.6,1977.1 318.7,1978.8 319.8,1980.4 321.0,1982.1 322.1,1983.7 323.3,1985.3 324.5,1986.9 325.7,1988.5 326.9,1990.1 328.1,1991.7 329.3,1993.3 330.5,1994.9 331.8,1996.5 333.1,1997.9 334.5,1999.4 336.0,2000.7 337.6,2001.9 339.2,2003.1 340.9,2004.1 342.7,2004.9 344.6,2005.4 346.5,2005.5 348.4,2005.2 350.3,2004.6 352.0,2003.7 353.7,2002.7 355.3,2001.4 356.8,2000.1 358.2,1998.8 359.6,1997.3 361.0,1995.9 362.3,1994.4 363.6,1992.8 364.9,1991.3 366.1,1989.7 367.3,1988.1 368.5,1986.5 369.6,1984.9 370.8,1983.2 371.9,1981.6 373.0,1979.9 374.0,1978.2 375.0,1976.5 376.0,1974.7 377.0,1973.0 377.9,1971.2 378.8,1969.4 379.7,1967.6 380.5,1965.8 381.2,1963.9 382.0,1962.1 382.7,1960.2 383.4,1958.3 384.0,1956.4 384.7,1954.5 385.3,1952.6 385.8,1950.7 386.4,1948.8 387.0,1946.9 387.5,1945.0 388.0,1943.0 388.5,1941.1 389.0,1939.2 389.5,1937.2 390.0,1935.3 390.4,1933.3 390.8,1931.4 391.2,1929.4 391.7,1927.4 392.1,1925.5 392.5,1923.5 392.9,1921.6 393.3,1919.6 393.7,1917.7 394.2,1915.7 394.6,1913.8 395.0,1911.8 395.5,1909.9 396.0,1907.9 396.5,1906.0 397.0,1904.1 397.5,1902.1 398.0,1900.2 398.6,1898.3 399.1,1896.3 399.7,1894.4 400.2,1892.5 400.8,1890.6 401.3,1888.6 401.9,1886.7 402.4,1884.8 403.0,1882.9 403.6,1881.0 404.1,1879.1 404.7,1877.1 405.3,1875.2 405.9,1873.3 406.5,1871.4 407.0,1869.5 407.6,1867.6 408.2,1865.7 408.8,1863.8 409.4,1861.9 410.1,1860.0 410.7,1858.0 411.3,1856.2 412.0,1854.3 412.7,1852.4 413.4,1850.5 414.2,1848.7 415.0,1846.9 415.9,1845.1 416.8,1843.3 417.8,1841.6 418.8,1839.9 419.9,1838.2 421.0,1836.5 422.1,1834.9 423.3,1833.2 424.4,1831.6 425.6,1829.9 426.8,1828.3 428.0,1826.7 429.2,1825.1 430.4,1823.6 431.6,1822.0 432.8,1820.4 433.9,1818.7 434.9,1817.0 435.8,1815.2 436.7,1813.4 437.5,1811.6 438.3,1809.7 439.1,1807.9 439.8,1806.0 440.6,1804.2 441.3,1802.3 442.0,1800.4 442.7,1798.6 443.3,1796.7 444.0,1794.8 444.6,1792.9 445.2,1791.0 445.7,1789.0 446.3,1787.1 446.8,1785.2 447.4,1783.3 447.9,1781.4 448.5,1779.4 449.2,1777.6 449.9,1775.7 450.6,1773.8 451.4,1772.0 452.3,1770.2 453.2,1768.4 454.1,1766.6 455.1,1764.9 456.2,1763.2 457.4,1761.6 458.6,1760.1 460.0,1758.6 461.5,1757.3 463.1,1756.1 464.8,1755.1 466.6,1754.3 468.5,1753.8 470.4,1753.5 472.4,1753.5 474.4,1753.7 476.4,1754.0 478.3,1754.4 480.2,1755.0 482.1,1755.6 483.9,1756.4 485.7,1757.3 487.4,1758.3 489.1,1759.4 490.7,1760.6 492.3,1761.8 493.8,1763.1 495.4,1764.4 496.9,1765.7 498.4,1767.0 499.9,1768.3 501.4,1769.6 502.9,1771.0 504.4,1772.3 505.8,1773.7 507.3,1775.0 508.8,1776.3 510.3,1777.6 511.8,1779.0 513.3,1780.4 514.7,1781.7 516.1,1783.2 517.5,1784.6 518.9,1786.0 520.3,1787.5 521.6,1789.0 522.8,1790.6 524.0,1792.2 525.2,1793.8 526.3,1795.5 527.4,1797.1 528.4,1798.9 529.4,1800.6 530.3,1802.4 531.2,1804.2 532.0,1806.0 532.9,1807.8 533.6,1809.6 534.4,1811.5 535.1,1813.4 535.8,1815.2 536.5,1817.1 537.1,1819.0 537.8,1820.9 538.4,1822.8 539.0,1824.7 539.6,1826.6 540.2,1828.5 540.8,1830.4 541.4,1832.3 541.9,1834.3 542.5,1836.2 543.0,1838.1 543.5,1840.1 544.0,1842.0 544.5,1843.9 545.1,1845.8 545.6,1847.8 546.1,1849.7 546.6,1851.6 547.2,1853.6 547.7,1855.5 548.2,1857.4 548.7,1859.4 549.2,1861.3 549.7,1863.2 550.3,1865.2 550.8,1867.1 551.3,1869.0 551.7,1871.0 552.2,1872.9 552.7,1874.9 553.1,1876.8 553.6,1878.8 554.1,1880.7 554.5,1882.7 555.0,1884.6 555.4,1886.5 555.9,1888.5 556.4,1890.4 556.9,1892.4 557.4,1894.3 557.9,1896.2 558.5,1898.2 559.0,1900.1 559.6,1902.0 560.2,1903.9 560.8,1905.8 561.5,1907.7 562.1,1909.6 562.8,1911.5 563.5,1913.3 564.1,1915.2 564.8,1917.1 565.5,1919.0 566.2,1920.9 566.8,1922.8 567.5,1924.6 568.2,1926.5 568.9,1928.4 569.7,1930.2 570.5,1932.1 571.4,1933.9 572.3,1935.6 573.4,1937.3 574.5,1938.9 575.7,1940.5 577.0,1942.1 578.2,1943.7 579.5,1945.2 580.8,1946.7 582.1,1948.2 583.5,1949.7 584.9,1951.1 586.4,1952.4 587.9,1953.7 589.4,1955.0 591.0,1956.2 592.6,1957.4 594.3,1958.6 595.9,1959.7 597.6,1960.7 599.3,1961.7 601.1,1962.7 602.8,1963.7 604.6,1964.6 606.4,1965.6 608.1,1966.5 609.9,1967.4 611.8,1968.2 613.6,1969.0 615.4,1969.7 617.3,1970.5 619.2,1971.2 621.1,1971.8 623.0,1972.4 624.9,1972.9 626.8,1973.4 628.8,1973.8 630.8,1974.0 632.8,1974.2 634.8,1974.2 636.8,1974.1 638.7,1973.9 640.7,1973.6 642.6,1973.1 644.5,1972.5 646.4,1971.7 648.2,1970.8 649.9,1969.8 651.5,1968.7 653.1,1967.5 654.6,1966.2 656.2,1964.9 657.7,1963.6 659.2,1962.3 660.7,1961.0 662.2,1959.6 663.6,1958.3 665.1,1956.9 666.6,1955.6 668.1,1954.2 669.6,1952.9 671.1,1951.6 672.5,1950.2 674.0,1948.9 675.6,1947.6 677.1,1946.3 678.6,1945.0 680.2,1943.8 681.7,1942.5 683.3,1941.2 684.8,1940.0 686.4,1938.7 687.9,1937.4 689.3,1936.1 690.7,1934.6 692.1,1933.1 693.4,1931.6 694.6,1930.1 695.9,1928.5 697.1,1926.9 698.4,1925.4 699.6,1923.8 700.8,1922.2 702.0,1920.6 703.2,1919.0 704.4,1917.4 705.6,1915.8 706.7,1914.1 707.8,1912.5 708.9,1910.8 710.0,1909.1 711.0,1907.4 712.0,1905.6 712.9,1903.9 713.9,1902.1 714.8,1900.4 715.8,1898.6 716.7,1896.8 717.7,1895.1 718.7,1893.3 719.6,1891.6 720.6,1889.9 721.6,1888.1 722.7,1886.4 723.7,1884.7 724.7,1883.0 725.7,1881.2 726.7,1879.5 727.7,1877.8 728.8,1876.1 729.8,1874.4 730.8,1872.6 731.8,1870.9 732.8,1869.2 733.8,1867.5 734.8,1865.7 735.9,1864.0 736.9,1862.3 737.9,1860.5 738.9,1858.8 739.8,1857.1 740.8,1855.3 741.8,1853.6 742.8,1851.9 743.8,1850.1 744.7,1848.4 745.7,1846.6 746.7,1844.9 747.6,1843.1 748.6,1841.3 749.5,1839.6 750.5,1837.8 751.4,1836.0 752.3,1834.3 753.2,1832.5 754.2,1830.7 755.1,1828.9 756.0,1827.2 756.9,1825.4 757.8,1823.6 758.7,1821.8 759.6,1820.0 760.5,1818.2 761.4,1816.4 762.3,1814.7 763.2,1812.9 764.1,1811.1 764.9,1809.3 765.8,1807.5 766.7,1805.7 767.5,1803.9 768.4,1802.0 769.2,1800.2 770.0,1798.4 770.8,1796.6 771.6,1794.7 772.5,1792.9 773.4,1791.1 774.3,1789.4 775.3,1787.6 776.4,1786.0 777.5,1784.3 778.7,1782.7 780.0,1781.2 781.4,1779.8 782.9,1778.5 784.5,1777.3 786.2,1776.3 788.0,1775.5 789.9,1774.8 791.8,1774.2 793.8,1773.8 795.7,1773.6 797.7,1773.4 799.7,1773.5 801.7,1773.7 803.6,1774.1 805.6,1774.6 807.5,1775.2 809.4,1775.8 811.3,1776.4 813.2,1777.1 815.1,1777.8 816.9,1778.5 818.8,1779.3 820.6,1780.1 822.4,1781.0 824.1,1781.9 825.9,1782.9 827.6,1783.9 829.3,1785.0 830.9,1786.1 832.5,1787.4 834.0,1788.7 835.5,1790.0 836.9,1791.5 838.2,1792.9 839.5,1794.4 840.8,1796.0 842.0,1797.6 843.2,1799.1 844.4,1800.8 845.5,1802.4 846.7,1804.1 847.7,1805.8 848.8,1807.4 849.9,1809.1 851.0,1810.8 852.1,1812.5 853.1,1814.2 854.2,1815.8 855.2,1817.4 856.0,1818.7 856.8,1820.0" fill="none" stroke="#0000ff" stroke-width="3" stroke-linejoin="round" stroke-linecap="round"/><circle cx="286.5" cy="1856.5" r="4.6" fill="#000"/><circle cx="543" cy="1899.4" r="4.6" fill="#000"/><circle cx="624.5" cy="1935.6" r="4.6" fill="#000"/><circle cx="678.3" cy="1921.5" r="4.6" fill="#000"/><circle cx="814.8" cy="1816.2" r="4.6" fill="#000"/></g>
<g stroke="#262626" stroke-width="2"><line x1="335.02" y1="2034" x2="335.02" y2="2026"/><line x1="335.02" y1="1707" x2="335.02" y2="1715"/><line x1="511.45" y1="2034" x2="511.45" y2="2026"/><line x1="511.45" y1="1707" x2="511.45" y2="1715"/><line x1="687.88" y1="2034" x2="687.88" y2="2026"/><line x1="687.88" y1="1707" x2="687.88" y2="1715"/><line x1="158.6" y1="1788.75" x2="166.6" y2="1788.75"/><line x1="864.3" y1="1788.75" x2="856.3" y2="1788.75"/><line x1="158.6" y1="1870.5" x2="166.6" y2="1870.5"/><line x1="864.3" y1="1870.5" x2="856.3" y2="1870.5"/><line x1="158.6" y1="1952.25" x2="166.6" y2="1952.25"/><line x1="864.3" y1="1952.25" x2="856.3" y2="1952.25"/><rect x="158.6" y="1707" width="705.7" height="327" fill="none" stroke-width="2.2"/></g>
<g font-size="37.5"><text x="147" y="1717.2" text-anchor="end">1.2</text><text x="147" y="1798.95" text-anchor="end">0.6</text><text x="147" y="1880.7" text-anchor="end">0</text><text x="147" y="1962.45" text-anchor="end"><tspan font-size="48" dy="6.6">−</tspan><tspan dx="-0.8" dy="-6.6">0.6</tspan></text><text x="147" y="2044.2" text-anchor="end"><tspan font-size="48" dy="6.6">−</tspan><tspan dx="-0.8" dy="-6.6">1.2</tspan></text><text x="158.6" y="2076" text-anchor="middle">0</text><text x="335.02" y="2076" text-anchor="middle">130</text><text x="511.45" y="2076" text-anchor="middle">260</text><text x="687.88" y="2076" text-anchor="middle">390</text><text x="864.3" y="2076" text-anchor="middle">520</text></g>
<text x="511.45" y="2129.2" font-size="40.7" text-anchor="middle">distance (m)</text>
<text transform="translate(58.3,1870.5) rotate(-90)" font-size="40.7" text-anchor="middle">AMP</text>
<text x="293.6" y="1753" font-size="37.5">7<tspan font-size="29.5" dy="-18">th</tspan><tspan dy="18"> mode</tspan></text>
<g stroke="#dcdcdc" stroke-width="2"><line x1="1272.78" y1="1707" x2="1272.78" y2="2034"/><line x1="1449.25" y1="1707" x2="1449.25" y2="2034"/><line x1="1625.72" y1="1707" x2="1625.72" y2="2034"/><line x1="1096.3" y1="1788.75" x2="1802.2" y2="1788.75"/><line x1="1096.3" y1="1870.5" x2="1802.2" y2="1870.5"/><line x1="1096.3" y1="1952.25" x2="1802.2" y2="1952.25"/></g>
<g><path d="M1096.7,1851.8L1097.8,1849.8 1098.7,1848.3 1099.7,1846.6 1100.6,1844.8 1101.6,1843.1 1102.6,1841.3 1103.5,1839.6 1104.5,1837.8 1105.4,1836.0 1106.2,1834.2 1107.1,1832.4 1107.9,1830.6 1108.6,1828.7 1109.4,1826.9 1110.1,1825.0 1110.8,1823.1 1111.5,1821.3 1112.2,1819.4 1112.9,1817.5 1113.6,1815.6 1114.3,1813.8 1115.0,1811.9 1115.7,1810.0 1116.4,1808.2 1117.1,1806.3 1117.8,1804.4 1118.5,1802.5 1119.2,1800.6 1119.9,1798.8 1120.6,1796.9 1121.3,1795.0 1122.1,1793.2 1122.8,1791.3 1123.6,1789.5 1124.4,1787.7 1125.2,1785.8 1126.0,1784.0 1126.9,1782.2 1127.8,1780.4 1128.7,1778.6 1129.6,1776.9 1130.7,1775.2 1131.8,1773.5 1132.9,1771.9 1134.2,1770.3 1135.6,1768.9 1137.0,1767.6 1138.6,1766.5 1140.4,1766.0 1142.2,1766.0 1143.8,1766.8 1145.3,1768.0 1146.6,1769.4 1147.7,1771.1 1148.7,1772.8 1149.6,1774.6 1150.4,1776.4 1151.1,1778.3 1151.8,1780.2 1152.4,1782.1 1153.0,1784.0 1153.6,1785.9 1154.2,1787.8 1154.7,1789.7 1155.3,1791.7 1155.8,1793.6 1156.3,1795.5 1156.8,1797.5 1157.2,1799.4 1157.7,1801.4 1158.2,1803.3 1158.6,1805.3 1159.1,1807.2 1159.5,1809.1 1160.0,1811.1 1160.5,1813.0 1161.1,1814.9 1161.6,1816.9 1162.2,1818.8 1162.8,1820.7 1163.5,1822.6 1164.1,1824.5 1164.8,1826.3 1165.5,1828.2 1166.2,1830.1 1166.9,1832.0 1167.6,1833.8 1168.3,1835.7 1169.0,1837.6 1169.6,1839.5 1170.3,1841.4 1171.0,1843.3 1171.6,1845.2 1172.2,1847.0 1172.9,1848.9 1173.5,1850.8 1174.2,1852.7 1174.8,1854.6 1175.4,1856.5 1176.1,1858.4 1176.7,1860.3 1177.3,1862.2 1177.9,1864.1 1178.5,1866.0 1179.1,1868.0 1179.7,1869.9 1180.2,1871.8 1180.8,1873.7 1181.3,1875.6 1181.9,1877.5 1182.5,1879.5 1183.0,1881.4 1183.6,1883.3 1184.1,1885.2 1184.7,1887.1 1185.3,1889.1 1185.9,1891.0 1186.4,1892.9 1187.0,1894.8 1187.6,1896.7 1188.2,1898.6 1188.8,1900.5 1189.4,1902.4 1190.0,1904.3 1190.7,1906.2 1191.3,1908.1 1191.9,1910.0 1192.5,1911.9 1193.1,1913.8 1193.8,1915.7 1194.4,1917.6 1195.1,1919.5 1195.8,1921.4 1196.5,1923.3 1197.2,1925.1 1197.9,1927.0 1198.6,1928.9 1199.4,1930.7 1200.1,1932.6 1200.9,1934.4 1201.7,1936.3 1202.5,1938.1 1203.3,1939.9 1204.1,1941.7 1205.0,1943.6 1205.9,1945.4 1206.7,1947.1 1207.7,1948.9 1208.6,1950.7 1209.6,1952.4 1210.6,1954.1 1211.7,1955.8 1212.9,1957.4 1214.2,1958.9 1215.6,1960.2 1217.2,1961.2 1219.1,1961.6 1221.0,1961.6 1222.9,1961.1 1224.7,1960.4 1226.4,1959.5 1228.0,1958.3 1229.4,1956.9 1230.7,1955.4 1231.9,1953.8 1233.0,1952.1 1234.0,1950.4 1234.9,1948.6 1235.8,1946.8 1236.7,1945.0 1237.5,1943.2 1238.3,1941.4 1239.0,1939.5 1239.8,1937.7 1240.4,1935.8 1241.1,1933.9 1241.8,1932.0 1242.4,1930.1 1243.0,1928.2 1243.6,1926.3 1244.2,1924.4 1244.8,1922.5 1245.4,1920.6 1245.9,1918.6 1246.5,1916.7 1247.0,1914.8 1247.6,1912.9 1248.1,1910.9 1248.6,1909.0 1249.1,1907.1 1249.7,1905.1 1250.2,1903.2 1250.7,1901.3 1251.2,1899.3 1251.6,1897.4 1252.1,1895.5 1252.6,1893.5 1253.1,1891.6 1253.6,1889.6 1254.1,1887.7 1254.6,1885.8 1255.1,1883.8 1255.6,1881.9 1256.1,1880.0 1256.6,1878.0 1257.1,1876.1 1257.6,1874.2 1258.1,1872.2 1258.6,1870.3 1259.1,1868.3 1259.6,1866.4 1260.1,1864.5 1260.7,1862.5 1261.2,1860.6 1261.7,1858.7 1262.2,1856.7 1262.7,1854.8 1263.3,1852.9 1263.8,1851.0 1264.3,1849.0 1264.9,1847.1 1265.4,1845.2 1266.0,1843.3 1266.5,1841.3 1267.1,1839.4 1267.6,1837.5 1268.2,1835.6 1268.8,1833.7 1269.4,1831.8 1270.0,1829.8 1270.6,1827.9 1271.2,1826.0 1271.9,1824.2 1272.5,1822.3 1273.2,1820.4 1273.9,1818.5 1274.6,1816.6 1275.3,1814.8 1276.1,1812.9 1276.8,1811.0 1277.5,1809.2 1278.3,1807.3 1279.1,1805.5 1279.9,1803.7 1280.7,1801.8 1281.5,1800.0 1282.3,1798.2 1283.1,1796.4 1283.9,1794.5 1284.8,1792.7 1285.6,1790.9 1286.5,1789.1 1287.3,1787.3 1288.2,1785.5 1289.1,1783.7 1290.1,1781.9 1291.1,1780.2 1292.1,1778.5 1293.2,1776.8 1294.4,1775.2 1295.6,1773.7 1296.9,1772.1 1298.3,1770.7 1299.8,1769.4 1301.4,1768.4 1303.2,1767.7 1305.0,1767.5 1306.8,1767.9 1308.5,1768.8 1309.9,1770.1 1311.2,1771.6 1312.4,1773.2 1313.5,1774.9 1314.5,1776.6 1315.4,1778.4 1316.3,1780.1 1317.1,1782.0 1317.9,1783.8 1318.7,1785.7 1319.3,1787.5 1320.0,1789.4 1320.6,1791.3 1321.2,1793.3 1321.7,1795.2 1322.3,1797.1 1322.8,1799.0 1323.3,1801.0 1323.8,1802.9 1324.2,1804.9 1324.7,1806.8 1325.2,1808.7 1325.6,1810.7 1326.0,1812.6 1326.5,1814.6 1326.9,1816.6 1327.3,1818.5 1327.7,1820.5 1328.1,1822.4 1328.6,1824.4 1329.0,1826.3 1329.4,1828.3 1329.8,1830.3 1330.2,1832.2 1330.6,1834.2 1331.0,1836.1 1331.4,1838.1 1331.8,1840.0 1332.2,1842.0 1332.6,1844.0 1333.0,1845.9 1333.4,1847.9 1333.8,1849.8 1334.2,1851.8 1334.6,1853.8 1335.0,1855.7 1335.4,1857.7 1335.8,1859.6 1336.2,1861.6 1336.5,1863.6 1336.9,1865.5 1337.3,1867.5 1337.7,1869.5 1338.1,1871.4 1338.5,1873.4 1338.9,1875.3 1339.3,1877.3 1339.7,1879.3 1340.1,1881.2 1340.6,1883.2 1341.0,1885.1 1341.5,1887.1 1341.9,1889.0 1342.4,1891.0 1342.8,1892.9 1343.3,1894.9 1343.7,1896.8 1344.2,1898.7 1344.7,1900.7 1345.2,1902.6 1345.7,1904.6 1346.2,1906.5 1346.7,1908.4 1347.2,1910.4 1347.8,1912.3 1348.4,1914.2 1348.9,1916.1 1349.6,1918.0 1350.2,1919.9 1350.8,1921.8 1351.5,1923.7 1352.2,1925.5 1353.0,1927.4 1353.8,1929.2 1354.7,1931.0 1355.7,1932.8 1356.7,1934.5 1357.8,1936.1 1358.9,1937.8 1360.1,1939.4 1361.3,1941.0 1362.6,1942.5 1363.9,1944.1 1365.2,1945.6 1366.5,1947.1 1367.9,1948.5 1369.2,1950.0 1370.5,1951.5 1371.8,1953.0 1373.1,1954.6 1374.4,1956.1 1375.6,1957.7 1376.9,1959.2 1378.1,1960.8 1379.3,1962.4 1380.5,1964.0 1381.7,1965.6 1382.9,1967.2 1384.0,1968.9 1385.2,1970.5 1386.3,1972.2 1387.4,1973.8 1388.4,1975.5 1389.5,1977.2 1390.5,1978.9 1391.6,1980.6 1392.7,1982.3 1393.8,1984.0 1394.9,1985.6 1396.1,1987.3 1397.3,1988.8 1398.7,1990.3 1400.2,1991.6 1401.8,1992.8 1403.5,1993.7 1405.3,1994.4 1407.2,1994.9 1409.2,1995.0 1411.1,1994.8 1412.9,1994.2 1414.7,1993.3 1416.2,1992.1 1417.7,1990.7 1419.1,1989.3 1420.4,1987.8 1421.6,1986.2 1422.9,1984.7 1424.0,1983.0 1425.2,1981.4 1426.3,1979.7 1427.3,1978.0 1428.3,1976.3 1429.3,1974.6 1430.3,1972.8 1431.3,1971.1 1432.2,1969.3 1433.1,1967.5 1433.9,1965.7 1434.7,1963.9 1435.5,1962.0 1436.3,1960.2 1437.0,1958.3 1437.7,1956.5 1438.4,1954.6 1439.1,1952.7 1439.7,1950.8 1440.3,1948.9 1440.9,1947.0 1441.5,1945.1 1442.0,1943.1 1442.6,1941.2 1443.1,1939.3 1443.7,1937.4 1444.2,1935.4 1444.8,1933.5 1445.3,1931.6 1445.8,1929.7 1446.3,1927.7 1446.9,1925.8 1447.4,1923.9 1448.0,1921.9 1448.5,1920.0 1449.0,1918.1 1449.6,1916.2 1450.1,1914.3 1450.7,1912.3 1451.3,1910.4 1451.8,1908.5 1452.4,1906.6 1452.9,1904.6 1453.5,1902.7 1454.0,1900.8 1454.6,1898.9 1455.1,1897.0 1455.7,1895.0 1456.2,1893.1 1456.8,1891.2 1457.3,1889.3 1457.9,1887.3 1458.4,1885.4 1459.0,1883.5 1459.5,1881.6 1460.1,1879.7 1460.6,1877.7 1461.2,1875.8 1461.8,1873.9 1462.3,1872.0 1462.9,1870.1 1463.5,1868.1 1464.0,1866.2 1464.6,1864.3 1465.2,1862.4 1465.7,1860.5 1466.3,1858.6 1466.9,1856.7 1467.6,1854.8 1468.2,1852.9 1468.9,1851.0 1469.6,1849.1 1470.2,1847.2 1470.9,1845.3 1471.5,1843.4 1472.0,1841.5 1472.6,1839.6 1473.1,1837.6 1473.6,1835.7 1474.1,1833.8 1474.5,1831.8 1475.0,1829.9 1475.5,1827.9 1475.9,1826.0 1476.4,1824.0 1476.8,1822.1 1477.3,1820.1 1477.8,1818.2 1478.3,1816.3 1478.8,1814.3 1479.3,1812.4 1479.8,1810.5 1480.4,1808.5 1481.0,1806.6 1481.5,1804.7 1482.1,1802.8 1482.7,1800.9 1483.4,1799.0 1484.0,1797.1 1484.6,1795.2 1485.2,1793.3 1485.9,1791.4 1486.5,1789.5 1487.2,1787.6 1487.8,1785.7 1488.5,1783.8 1489.2,1782.0 1489.9,1780.1 1490.5,1778.2 1491.2,1776.3 1491.9,1774.4 1492.6,1772.6 1493.3,1770.7 1494.1,1768.8 1494.8,1767.0 1495.5,1765.1 1496.3,1763.3 1497.1,1761.4 1497.9,1759.6 1498.7,1757.8 1499.5,1755.9 1500.4,1754.1 1501.2,1752.3 1502.1,1750.6 1503.1,1748.8 1504.0,1747.0 1505.0,1745.3 1506.0,1743.6 1507.2,1741.9 1508.4,1740.4 1509.7,1738.9 1511.2,1737.6 1512.8,1736.4 1514.6,1735.5 1516.4,1734.7 1518.3,1734.2 1520.2,1733.9 1522.2,1733.8 1524.2,1733.9 1526.1,1734.2 1528.0,1734.8 1529.9,1735.5 1531.7,1736.3 1533.5,1737.3 1535.2,1738.2 1536.9,1739.3 1538.6,1740.4 1540.2,1741.5 1541.8,1742.7 1543.3,1744.0 1544.8,1745.4 1546.2,1746.9 1547.5,1748.4 1548.7,1749.9 1549.9,1751.5 1551.1,1753.2 1552.2,1754.8 1553.2,1756.5 1554.3,1758.2 1555.3,1760.0 1556.2,1761.7 1557.2,1763.5 1558.1,1765.3 1558.9,1767.1 1559.8,1768.9 1560.6,1770.7 1561.4,1772.5 1562.2,1774.4 1563.0,1776.2 1563.7,1778.1 1564.5,1779.9 1565.2,1781.8 1565.9,1783.7 1566.6,1785.5 1567.4,1787.4 1568.1,1789.3 1568.8,1791.1 1569.5,1793.0 1570.2,1794.9 1570.9,1796.8 1571.6,1798.6 1572.2,1800.5 1572.9,1802.4 1573.6,1804.3 1574.2,1806.2 1574.9,1808.1 1575.5,1810.0 1576.2,1811.8 1576.8,1813.7 1577.4,1815.6 1578.1,1817.5 1578.7,1819.4 1579.3,1821.3 1579.9,1823.2 1580.5,1825.2 1581.1,1827.1 1581.7,1829.0 1582.3,1830.9 1582.8,1832.8 1583.4,1834.7 1584.0,1836.6 1584.5,1838.6 1585.1,1840.5 1585.6,1842.4 1586.2,1844.3 1586.8,1846.2 1587.3,1848.2 1587.9,1850.1 1588.5,1852.0 1589.1,1853.9 1589.7,1855.8 1590.4,1857.7 1591.1,1859.6 1591.8,1861.4 1592.7,1863.2 1593.6,1865.0 1594.4,1866.8 1595.1,1868.7 1595.8,1870.6 1596.4,1872.5 1596.9,1874.4 1597.4,1876.3 1597.8,1878.3 1598.2,1880.2 1598.7,1882.2 1599.1,1884.2 1599.6,1886.1 1600.0,1888.0 1600.5,1890.0 1601.1,1891.9 1601.6,1893.8 1602.2,1895.7 1602.7,1897.7 1603.3,1899.6 1603.9,1901.5 1604.5,1903.4 1605.1,1905.3 1605.7,1907.2 1606.2,1909.1 1606.8,1911.1 1607.4,1913.0 1608.0,1914.9 1608.5,1916.8 1609.1,1918.7 1609.7,1920.6 1610.3,1922.6 1610.8,1924.5 1611.4,1926.4 1612.0,1928.3 1612.6,1930.2 1613.2,1932.1 1613.8,1934.0 1614.4,1935.9 1615.0,1937.8 1615.6,1939.7 1616.2,1941.6 1616.9,1943.5 1617.5,1945.4 1618.2,1947.3 1618.8,1949.2 1619.5,1951.1 1620.2,1953.0 1620.9,1954.8 1621.7,1956.7 1622.4,1958.5 1623.2,1960.4 1624.0,1962.2 1624.8,1964.1 1625.5,1965.9 1626.4,1967.7 1627.2,1969.6 1628.0,1971.4 1628.8,1973.2 1629.7,1975.0 1630.6,1976.8 1631.6,1978.5 1632.6,1980.2 1633.7,1981.9 1634.8,1983.6 1636.0,1985.2 1637.2,1986.8 1638.5,1988.3 1639.9,1989.7 1641.4,1991.0 1643.0,1992.2 1644.6,1993.4 1646.4,1994.3 1648.2,1995.1 1650.0,1995.5 1652.0,1995.6 1653.9,1995.2 1655.7,1994.5 1657.5,1993.6 1659.2,1992.6 1660.8,1991.4 1662.3,1990.1 1663.7,1988.7 1664.9,1987.1 1666.1,1985.5 1667.2,1983.8 1668.2,1982.1 1669.2,1980.4 1670.1,1978.6 1671.0,1976.8 1671.9,1975.0 1672.7,1973.2 1673.6,1971.4 1674.4,1969.6 1675.1,1967.7 1675.9,1965.9 1676.6,1964.0 1677.4,1962.2 1678.0,1960.3 1678.7,1958.4 1679.4,1956.5 1680.0,1954.6 1680.7,1952.7 1681.3,1950.8 1682.0,1948.9 1682.6,1947.0 1683.3,1945.2 1684.0,1943.3 1684.6,1941.4 1685.3,1939.5 1686.0,1937.6 1686.6,1935.7 1687.2,1933.8 1687.9,1931.9 1688.5,1930.0 1689.0,1928.1 1689.6,1926.2 1690.2,1924.3 1690.7,1922.4 1691.3,1920.4 1691.9,1918.5 1692.5,1916.6 1693.1,1914.7 1693.7,1912.8 1694.4,1910.9 1695.1,1909.0 1695.7,1907.1 1696.3,1905.2 1696.9,1903.3 1697.5,1901.4 1698.0,1899.5 1698.6,1897.6 1699.2,1895.7 1699.7,1893.7 1700.3,1891.8 1700.8,1889.9 1701.4,1888.0 1701.9,1886.1 1702.5,1884.1 1703.0,1882.2 1703.6,1880.3 1704.1,1878.4 1704.7,1876.4 1705.2,1874.5 1705.8,1872.6 1706.3,1870.7 1706.8,1868.7 1707.4,1866.8 1707.9,1864.9 1708.4,1862.9 1709.0,1861.0 1709.5,1859.1 1710.0,1857.2 1710.5,1855.2 1711.0,1853.3 1711.6,1851.4 1712.1,1849.4 1712.7,1847.5 1713.2,1845.6 1713.8,1843.7 1714.4,1841.8 1714.9,1839.8 1715.5,1837.9 1716.1,1836.0 1716.7,1834.1 1717.2,1832.2 1717.8,1830.3 1718.4,1828.4 1719.0,1826.4 1719.5,1824.5 1720.1,1822.6 1720.7,1820.7 1721.3,1818.8 1721.9,1816.9 1722.5,1815.0 1723.1,1813.1 1723.7,1811.1 1724.3,1809.2 1724.9,1807.4 1725.6,1805.5 1726.3,1803.6 1727.0,1801.7 1727.7,1799.8 1728.4,1798.0 1729.2,1796.1 1729.9,1794.3 1730.7,1792.4 1731.5,1790.6 1732.4,1788.8 1733.2,1787.0 1734.1,1785.2 1735.0,1783.4 1735.9,1781.6 1736.8,1779.9 1737.8,1778.1 1738.8,1776.4 1739.8,1774.7 1740.8,1772.9 1741.8,1771.2 1742.8,1769.5 1743.8,1767.7 1744.8,1766.0 1745.8,1764.3 1746.8,1762.5 1747.8,1760.8 1748.8,1759.0 1749.8,1757.3 1750.8,1755.6 1751.9,1753.9 1753.1,1752.3 1754.4,1750.8 1755.8,1749.4 1757.4,1748.2 1759.0,1747.1 1760.8,1746.3 1762.6,1745.8 1764.6,1745.6 1766.5,1745.9 1768.3,1746.6 1770.0,1747.6 1771.5,1748.9 1772.8,1750.3 1774.0,1751.9 1775.1,1753.6 1776.1,1755.3 1776.9,1757.1 1777.8,1758.9 1778.6,1760.8 1779.3,1762.6 1780.0,1764.5 1780.7,1766.4 1781.3,1768.3 1781.9,1770.2 1782.4,1772.1 1783.0,1774.0 1783.5,1776.0 1784.0,1777.9 1784.4,1779.9 1784.9,1781.8 1785.4,1783.7 1785.8,1785.7 1786.3,1787.6 1786.7,1789.6 1787.2,1791.5 1787.6,1793.5 1788.0,1795.4 1788.5,1797.4 1788.9,1799.3 1789.4,1801.3 1789.8,1803.2 1790.2,1805.2 1790.6,1807.0 1791.0,1808.6 1791.3,1810.2" fill="none" stroke="#ff00ff" stroke-width="3" stroke-dasharray="3.5 2.5"/><path d="M1096.7,1850.2L1098.5,1848.8 1099.9,1847.7 1101.4,1846.5 1103.0,1845.2 1104.4,1843.9 1105.8,1842.5 1107.2,1841.0 1108.4,1839.4 1109.5,1837.8 1110.6,1836.1 1111.6,1834.4 1112.7,1832.6 1113.6,1830.9 1114.6,1829.2 1115.6,1827.4 1116.5,1825.6 1117.4,1823.9 1118.3,1822.1 1119.2,1820.3 1120.1,1818.5 1121.0,1816.7 1121.8,1814.9 1122.7,1813.1 1123.6,1811.3 1124.5,1809.5 1125.3,1807.7 1126.2,1805.9 1127.0,1804.1 1127.9,1802.3 1128.8,1800.5 1129.7,1798.7 1130.6,1796.9 1131.7,1795.2 1132.7,1793.5 1133.8,1791.9 1135.0,1790.3 1136.3,1788.7 1137.6,1787.3 1139.2,1786.1 1140.9,1785.3 1142.6,1785.1 1144.4,1785.6 1145.9,1786.6 1147.2,1788.0 1148.4,1789.6 1149.4,1791.4 1150.3,1793.1 1151.1,1795.0 1151.9,1796.8 1152.7,1798.7 1153.4,1800.5 1154.0,1802.4 1154.6,1804.3 1155.2,1806.2 1155.8,1808.1 1156.3,1810.1 1156.9,1812.0 1157.4,1813.9 1158.0,1815.8 1158.6,1817.8 1159.2,1819.7 1159.8,1821.6 1160.5,1823.4 1161.2,1825.3 1161.9,1827.2 1162.6,1829.1 1163.3,1830.9 1164.1,1832.8 1164.8,1834.6 1165.6,1836.5 1166.3,1838.3 1167.1,1840.2 1167.9,1842.0 1168.6,1843.9 1169.4,1845.7 1170.2,1847.5 1171.0,1849.4 1171.9,1851.2 1172.7,1853.0 1173.6,1854.8 1174.4,1856.6 1175.3,1858.4 1176.1,1860.2 1177.0,1862.0 1177.8,1863.9 1178.6,1865.7 1179.5,1867.5 1180.2,1869.3 1181.0,1871.2 1181.8,1873.0 1182.5,1874.9 1183.3,1876.7 1184.0,1878.6 1184.7,1880.5 1185.5,1882.3 1186.2,1884.2 1186.9,1886.0 1187.7,1887.9 1188.4,1889.8 1189.2,1891.6 1189.9,1893.5 1190.7,1895.3 1191.4,1897.2 1192.2,1899.0 1193.0,1900.9 1193.7,1902.7 1194.5,1904.6 1195.3,1906.4 1196.1,1908.3 1196.8,1910.1 1197.7,1911.9 1198.5,1913.7 1199.4,1915.5 1200.2,1917.3 1201.1,1919.1 1202.0,1920.9 1202.9,1922.7 1203.8,1924.5 1204.8,1926.2 1205.8,1927.9 1206.9,1929.6 1208.1,1931.2 1209.4,1932.7 1210.8,1934.1 1212.4,1935.4 1214.0,1936.5 1215.7,1937.5 1217.5,1938.3 1219.4,1939.0 1221.3,1939.5 1223.3,1939.7 1225.2,1939.6 1227.1,1939.2 1228.9,1938.4 1230.5,1937.3 1232.0,1936.1 1233.4,1934.6 1234.7,1933.1 1235.8,1931.5 1236.9,1929.8 1237.8,1928.0 1238.7,1926.2 1239.6,1924.4 1240.4,1922.6 1241.2,1920.8 1241.9,1918.9 1242.7,1917.0 1243.3,1915.2 1244.0,1913.3 1244.6,1911.4 1245.3,1909.5 1245.9,1907.6 1246.5,1905.7 1247.1,1903.8 1247.7,1901.9 1248.3,1899.9 1248.9,1898.0 1249.5,1896.1 1250.1,1894.2 1250.7,1892.3 1251.3,1890.4 1251.9,1888.5 1252.4,1886.6 1253.0,1884.7 1253.6,1882.8 1254.2,1880.8 1254.8,1878.9 1255.3,1877.0 1255.9,1875.1 1256.6,1873.2 1257.2,1871.3 1257.8,1869.4 1258.5,1867.5 1259.1,1865.6 1259.8,1863.7 1260.5,1861.9 1261.2,1860.0 1261.9,1858.1 1262.6,1856.2 1263.3,1854.4 1264.1,1852.5 1264.8,1850.7 1265.6,1848.8 1266.4,1847.0 1267.2,1845.2 1268.1,1843.4 1268.9,1841.6 1269.8,1839.8 1270.7,1838.0 1271.6,1836.2 1272.5,1834.4 1273.4,1832.6 1274.3,1830.8 1275.3,1829.1 1276.2,1827.3 1277.2,1825.6 1278.2,1823.8 1279.1,1822.1 1280.1,1820.3 1281.1,1818.6 1282.2,1816.9 1283.2,1815.2 1284.3,1813.5 1285.4,1811.8 1286.5,1810.1 1287.6,1808.5 1288.7,1806.8 1289.8,1805.2 1291.0,1803.5 1292.1,1801.9 1293.4,1800.4 1294.7,1798.8 1296.0,1797.4 1297.5,1796.0 1299.0,1794.7 1300.6,1793.6 1302.4,1792.6 1304.2,1791.9 1306.1,1791.4 1308.0,1791.4 1309.9,1791.7 1311.8,1792.3 1313.5,1793.2 1315.2,1794.3 1316.6,1795.6 1318.0,1797.1 1319.3,1798.6 1320.4,1800.2 1321.6,1801.9 1322.6,1803.6 1323.6,1805.3 1324.6,1807.0 1325.6,1808.8 1326.6,1810.5 1327.5,1812.3 1328.4,1814.1 1329.3,1815.9 1330.2,1817.7 1331.1,1819.5 1331.9,1821.3 1332.8,1823.1 1333.6,1824.9 1334.4,1826.7 1335.2,1828.6 1336.0,1830.4 1336.8,1832.2 1337.6,1834.1 1338.4,1835.9 1339.1,1837.8 1339.8,1839.6 1340.5,1841.5 1341.2,1843.4 1341.9,1845.3 1342.5,1847.2 1343.2,1849.1 1343.8,1851.0 1344.5,1852.9 1345.1,1854.7 1345.8,1856.6 1346.5,1858.5 1347.2,1860.4 1347.9,1862.3 1348.6,1864.1 1349.3,1866.0 1350.1,1867.8 1350.8,1869.7 1351.6,1871.6 1352.3,1873.4 1353.1,1875.3 1353.9,1877.1 1354.6,1878.9 1355.4,1880.8 1356.2,1882.6 1357.1,1884.4 1357.9,1886.2 1358.7,1888.1 1359.5,1889.9 1360.4,1891.7 1361.2,1893.5 1362.0,1895.4 1362.8,1897.2 1363.6,1899.0 1364.4,1900.9 1365.2,1902.7 1366.0,1904.5 1366.8,1906.4 1367.6,1908.2 1368.4,1910.0 1369.2,1911.8 1370.1,1913.7 1370.9,1915.5 1371.8,1917.3 1372.6,1919.1 1373.5,1920.9 1374.4,1922.7 1375.3,1924.5 1376.2,1926.3 1377.1,1928.0 1378.0,1929.8 1378.9,1931.6 1379.9,1933.3 1380.8,1935.1 1381.8,1936.9 1382.7,1938.6 1383.7,1940.4 1384.6,1942.1 1385.6,1943.9 1386.5,1945.7 1387.5,1947.4 1388.4,1949.2 1389.4,1950.9 1390.3,1952.7 1391.3,1954.5 1392.3,1956.2 1393.2,1958.0 1394.2,1959.7 1395.2,1961.4 1396.2,1963.2 1397.2,1964.9 1398.3,1966.6 1399.4,1968.3 1400.5,1969.9 1401.6,1971.6 1402.7,1973.2 1403.9,1974.8 1405.1,1976.4 1406.4,1978.0 1407.7,1979.5 1409.0,1981.0 1410.4,1982.4 1411.9,1983.8 1413.4,1985.1 1414.9,1986.4 1416.6,1987.5 1418.3,1988.5 1420.0,1989.4 1421.9,1990.2 1423.8,1990.8 1425.7,1991.2 1427.7,1991.4 1429.7,1991.4 1431.6,1991.2 1433.6,1990.8 1435.4,1990.1 1437.2,1989.2 1438.9,1988.2 1440.4,1986.9 1441.9,1985.6 1443.2,1984.1 1444.5,1982.5 1445.6,1980.9 1446.7,1979.3 1447.8,1977.6 1448.8,1975.8 1449.7,1974.1 1450.6,1972.3 1451.5,1970.5 1452.3,1968.7 1453.2,1966.8 1453.9,1965.0 1454.7,1963.2 1455.5,1961.3 1456.2,1959.5 1457.0,1957.6 1457.7,1955.7 1458.4,1953.8 1459.0,1952.0 1459.7,1950.1 1460.3,1948.2 1461.0,1946.3 1461.6,1944.4 1462.2,1942.5 1462.7,1940.6 1463.3,1938.6 1463.9,1936.7 1464.4,1934.8 1465.0,1932.9 1465.5,1930.9 1466.0,1929.0 1466.6,1927.1 1467.1,1925.2 1467.7,1923.2 1468.2,1921.3 1468.7,1919.4 1469.3,1917.5 1469.8,1915.5 1470.3,1913.6 1470.8,1911.7 1471.4,1909.7 1471.9,1907.8 1472.4,1905.9 1472.9,1903.9 1473.4,1902.0 1473.9,1900.1 1474.4,1898.1 1474.9,1896.2 1475.4,1894.3 1475.9,1892.3 1476.4,1890.4 1476.9,1888.4 1477.3,1886.5 1477.8,1884.6 1478.3,1882.6 1478.8,1880.7 1479.3,1878.7 1479.8,1876.8 1480.3,1874.9 1480.8,1872.9 1481.3,1871.0 1481.7,1869.0 1482.3,1867.1 1482.8,1865.2 1483.3,1863.2 1483.8,1861.3 1484.3,1859.4 1484.8,1857.4 1485.3,1855.5 1485.8,1853.6 1486.4,1851.6 1486.9,1849.7 1487.4,1847.8 1487.9,1845.8 1488.4,1843.9 1489.0,1842.0 1489.5,1840.1 1490.0,1838.1 1490.5,1836.2 1491.1,1834.3 1491.6,1832.3 1492.2,1830.4 1492.7,1828.5 1493.3,1826.6 1493.8,1824.7 1494.4,1822.7 1495.0,1820.8 1495.6,1818.9 1496.2,1817.0 1496.8,1815.1 1497.4,1813.2 1498.0,1811.3 1498.6,1809.4 1499.2,1807.5 1499.8,1805.6 1500.4,1803.7 1501.0,1801.8 1501.7,1799.9 1502.3,1798.0 1502.9,1796.1 1503.5,1794.2 1504.2,1792.3 1504.8,1790.4 1505.4,1788.5 1506.1,1786.6 1506.7,1784.7 1507.3,1782.8 1508.0,1780.9 1508.6,1779.0 1509.3,1777.1 1510.0,1775.2 1510.7,1773.4 1511.4,1771.5 1512.1,1769.6 1512.8,1767.7 1513.5,1765.9 1514.3,1764.0 1515.0,1762.2 1515.8,1760.3 1516.6,1758.5 1517.4,1756.7 1518.2,1754.8 1519.0,1753.0 1519.9,1751.2 1520.8,1749.4 1521.8,1747.7 1522.8,1746.0 1523.8,1744.3 1524.9,1742.6 1526.1,1741.0 1527.4,1739.4 1528.7,1738.0 1530.2,1736.6 1531.8,1735.5 1533.5,1734.7 1535.4,1734.3 1537.3,1734.4 1539.2,1734.8 1540.9,1735.7 1542.5,1736.8 1544.0,1738.1 1545.4,1739.6 1546.6,1741.2 1547.7,1742.8 1548.8,1744.5 1549.9,1746.2 1550.9,1747.9 1551.8,1749.6 1552.8,1751.4 1553.8,1753.2 1554.7,1754.9 1555.6,1756.7 1556.5,1758.5 1557.4,1760.3 1558.2,1762.1 1559.0,1763.9 1559.9,1765.8 1560.6,1767.6 1561.4,1769.4 1562.2,1771.3 1562.9,1773.1 1563.6,1775.0 1564.3,1776.9 1565.0,1778.8 1565.6,1780.7 1566.3,1782.6 1566.9,1784.5 1567.5,1786.4 1568.2,1788.3 1568.8,1790.2 1569.4,1792.1 1570.0,1794.0 1570.6,1795.9 1571.2,1797.8 1571.8,1799.7 1572.5,1801.6 1573.1,1803.5 1573.7,1805.4 1574.4,1807.3 1575.0,1809.2 1575.6,1811.1 1576.3,1813.0 1576.9,1814.9 1577.5,1816.8 1578.2,1818.6 1578.8,1820.5 1579.4,1822.4 1580.1,1824.3 1580.7,1826.2 1581.3,1828.1 1582.0,1830.0 1582.6,1831.9 1583.2,1833.8 1583.8,1835.7 1584.5,1837.6 1585.1,1839.5 1585.7,1841.4 1586.3,1843.3 1587.0,1845.2 1587.6,1847.1 1588.2,1849.0 1588.8,1850.9 1589.5,1852.8 1590.1,1854.7 1590.7,1856.6 1591.3,1858.5 1591.9,1860.4 1592.5,1862.3 1593.1,1864.3 1593.7,1866.2 1594.3,1868.1 1594.9,1870.0 1595.4,1871.9 1596.0,1873.8 1596.5,1875.8 1596.9,1877.7 1597.4,1879.7 1597.8,1881.6 1598.2,1883.6 1598.6,1885.5 1599.1,1887.5 1599.6,1889.4 1600.1,1891.4 1600.6,1893.3 1601.2,1895.2 1601.8,1897.1 1602.4,1899.0 1603.0,1900.9 1603.5,1902.9 1604.1,1904.8 1604.7,1906.7 1605.3,1908.6 1605.9,1910.5 1606.4,1912.4 1607.0,1914.3 1607.6,1916.3 1608.1,1918.2 1608.7,1920.1 1609.3,1922.0 1609.9,1923.9 1610.5,1925.8 1611.0,1927.8 1611.6,1929.7 1612.2,1931.6 1612.8,1933.5 1613.4,1935.4 1614.0,1937.3 1614.6,1939.2 1615.3,1941.1 1615.9,1943.0 1616.5,1944.9 1617.2,1946.8 1617.9,1948.7 1618.5,1950.5 1619.2,1952.4 1619.9,1954.3 1620.7,1956.2 1621.4,1958.0 1622.2,1959.9 1622.9,1961.7 1623.7,1963.5 1624.5,1965.4 1625.3,1967.2 1626.1,1969.0 1627.0,1970.9 1627.8,1972.7 1628.7,1974.5 1629.6,1976.3 1630.5,1978.0 1631.6,1979.7 1632.6,1981.4 1633.7,1983.1 1634.9,1984.7 1636.0,1986.3 1637.3,1987.9 1638.5,1989.5 1639.8,1991.0 1641.2,1992.4 1642.7,1993.7 1644.3,1994.9 1646.0,1995.8 1647.9,1996.5 1649.8,1996.8 1651.7,1996.7 1653.6,1996.3 1655.4,1995.5 1657.1,1994.5 1658.7,1993.3 1660.1,1991.9 1661.5,1990.5 1662.8,1988.9 1664.0,1987.4 1665.1,1985.7 1666.2,1984.0 1667.2,1982.3 1668.2,1980.6 1669.2,1978.8 1670.1,1977.1 1671.0,1975.3 1671.8,1973.5 1672.7,1971.6 1673.5,1969.8 1674.2,1968.0 1675.0,1966.1 1675.8,1964.3 1676.5,1962.4 1677.2,1960.5 1677.8,1958.6 1678.5,1956.7 1679.1,1954.8 1679.8,1953.0 1680.4,1951.1 1681.1,1949.2 1681.7,1947.3 1682.4,1945.4 1683.1,1943.5 1683.7,1941.6 1684.4,1939.7 1685.1,1937.9 1685.7,1936.0 1686.4,1934.1 1687.0,1932.2 1687.6,1930.3 1688.2,1928.3 1688.7,1926.4 1689.3,1924.5 1689.9,1922.6 1690.4,1920.7 1691.0,1918.8 1691.6,1916.9 1692.2,1915.0 1692.9,1913.1 1693.6,1911.2 1694.2,1909.3 1694.8,1907.4 1695.4,1905.5 1696.0,1903.6 1696.6,1901.6 1697.1,1899.7 1697.6,1897.8 1698.1,1895.8 1698.6,1893.9 1699.1,1892.0 1699.6,1890.0 1700.1,1888.1 1700.6,1886.2 1701.0,1884.2 1701.5,1882.3 1702.0,1880.3 1702.5,1878.4 1703.0,1876.5 1703.5,1874.5 1704.0,1872.6 1704.5,1870.6 1705.0,1868.7 1705.5,1866.8 1706.0,1864.8 1706.5,1862.9 1707.0,1861.0 1707.5,1859.0 1708.0,1857.1 1708.5,1855.2 1709.0,1853.2 1709.5,1851.3 1710.1,1849.4 1710.6,1847.4 1711.1,1845.5 1711.6,1843.6 1712.2,1841.6 1712.7,1839.7 1713.3,1837.8 1713.8,1835.9 1714.4,1833.9 1714.9,1832.0 1715.5,1830.1 1716.0,1828.2 1716.6,1826.3 1717.2,1824.4 1717.7,1822.4 1718.3,1820.5 1718.9,1818.6 1719.5,1816.7 1720.1,1814.8 1720.6,1812.9 1721.2,1811.0 1721.8,1809.0 1722.4,1807.1 1723.0,1805.2 1723.6,1803.3 1724.3,1801.4 1724.9,1799.5 1725.5,1797.6 1726.1,1795.7 1726.8,1793.8 1727.5,1792.0 1728.1,1790.1 1728.8,1788.2 1729.5,1786.3 1730.2,1784.5 1731.0,1782.6 1731.7,1780.7 1732.5,1778.9 1733.3,1777.0 1734.1,1775.2 1734.9,1773.4 1735.8,1771.6 1736.6,1769.8 1737.5,1768.0 1738.4,1766.2 1739.3,1764.4 1740.3,1762.7 1741.2,1760.9 1742.2,1759.2 1743.3,1757.5 1744.5,1755.9 1745.7,1754.3 1747.1,1752.9 1748.6,1751.6 1750.2,1750.4 1751.9,1749.6 1753.8,1748.9 1755.7,1748.6 1757.7,1748.6 1759.6,1748.9 1761.5,1749.5 1763.2,1750.4 1764.8,1751.6 1766.2,1753.0 1767.6,1754.4 1768.8,1756.0 1770.0,1757.6 1771.1,1759.3 1772.1,1761.0 1773.1,1762.7 1774.1,1764.5 1775.0,1766.2 1775.9,1768.0 1776.8,1769.8 1777.6,1771.7 1778.4,1773.5 1779.1,1775.3 1779.9,1777.2 1780.6,1779.1 1781.3,1780.9 1782.0,1782.8 1782.7,1784.7 1783.4,1786.6 1784.1,1788.5 1784.7,1790.3 1785.4,1792.2 1786.1,1794.1 1786.8,1796.0 1787.5,1797.9 1788.1,1799.8 1788.8,1801.6 1789.4,1803.5 1790.0,1805.4 1790.7,1807.3 1791.3,1809.2 1791.9,1811.1 1792.5,1813.0 1793.1,1815.0 1793.7,1816.9 1794.2,1818.7 1794.7,1820.2 1795.2,1821.8" fill="none" stroke="#0000ff" stroke-width="3" stroke-linejoin="round" stroke-linecap="round"/><circle cx="1224" cy="1893.4" r="4.6" fill="#000"/><circle cx="1481.2" cy="1831" r="4.6" fill="#000"/><circle cx="1562.6" cy="1793.8" r="4.6" fill="#000"/><circle cx="1616.9" cy="1925.7" r="4.6" fill="#000"/><circle cx="1752.9" cy="1778.1" r="4.6" fill="#000"/></g>
<g stroke="#262626" stroke-width="2"><line x1="1272.78" y1="2034" x2="1272.78" y2="2026"/><line x1="1272.78" y1="1707" x2="1272.78" y2="1715"/><line x1="1449.25" y1="2034" x2="1449.25" y2="2026"/><line x1="1449.25" y1="1707" x2="1449.25" y2="1715"/><line x1="1625.72" y1="2034" x2="1625.72" y2="2026"/><line x1="1625.72" y1="1707" x2="1625.72" y2="1715"/><line x1="1096.3" y1="1788.75" x2="1104.3" y2="1788.75"/><line x1="1802.2" y1="1788.75" x2="1794.2" y2="1788.75"/><line x1="1096.3" y1="1870.5" x2="1104.3" y2="1870.5"/><line x1="1802.2" y1="1870.5" x2="1794.2" y2="1870.5"/><line x1="1096.3" y1="1952.25" x2="1104.3" y2="1952.25"/><line x1="1802.2" y1="1952.25" x2="1794.2" y2="1952.25"/><rect x="1096.3" y="1707" width="705.9" height="327" fill="none" stroke-width="2.2"/></g>
<g font-size="37.5"><text x="1084.7" y="1717.2" text-anchor="end">1.2</text><text x="1084.7" y="1798.95" text-anchor="end">0.6</text><text x="1084.7" y="1880.7" text-anchor="end">0</text><text x="1084.7" y="1962.45" text-anchor="end"><tspan font-size="48" dy="6.6">−</tspan><tspan dx="-0.8" dy="-6.6">0.6</tspan></text><text x="1084.7" y="2044.2" text-anchor="end"><tspan font-size="48" dy="6.6">−</tspan><tspan dx="-0.8" dy="-6.6">1.2</tspan></text><text x="1096.3" y="2076" text-anchor="middle">0</text><text x="1272.78" y="2076" text-anchor="middle">130</text><text x="1449.25" y="2076" text-anchor="middle">260</text><text x="1625.72" y="2076" text-anchor="middle">390</text><text x="1802.2" y="2076" text-anchor="middle">520</text></g>
<text x="1449.25" y="2129.2" font-size="40.7" text-anchor="middle">distance (m)</text>
<text transform="translate(996,1870.5) rotate(-90)" font-size="40.7" text-anchor="middle">AMP</text>
<text x="1334" y="1753.8" font-size="37.5">8<tspan font-size="29.5" dy="-18">th</tspan><tspan dy="18"> mode</tspan></text>
<g font-size="29.5"><rect x="700.7" y="241.8" width="150.3" height="104.8" fill="#fff" stroke="#262626" stroke-width="2.2"/><line x1="706" y1="260.3" x2="755.6" y2="260.3" stroke="#0000ff" stroke-width="3"/><line x1="706" y1="294.6" x2="755.6" y2="294.6" stroke="#ff00ff" stroke-width="3" stroke-dasharray="3.5 2.5"/><circle cx="730.4" cy="328.4" r="4.6" fill="#000"/><text x="759.8" y="270.6">AR</text><text x="759.8" y="304.6">FEM</text><text x="759.8" y="338.6">Present</text></g>
</svg></body></html>
